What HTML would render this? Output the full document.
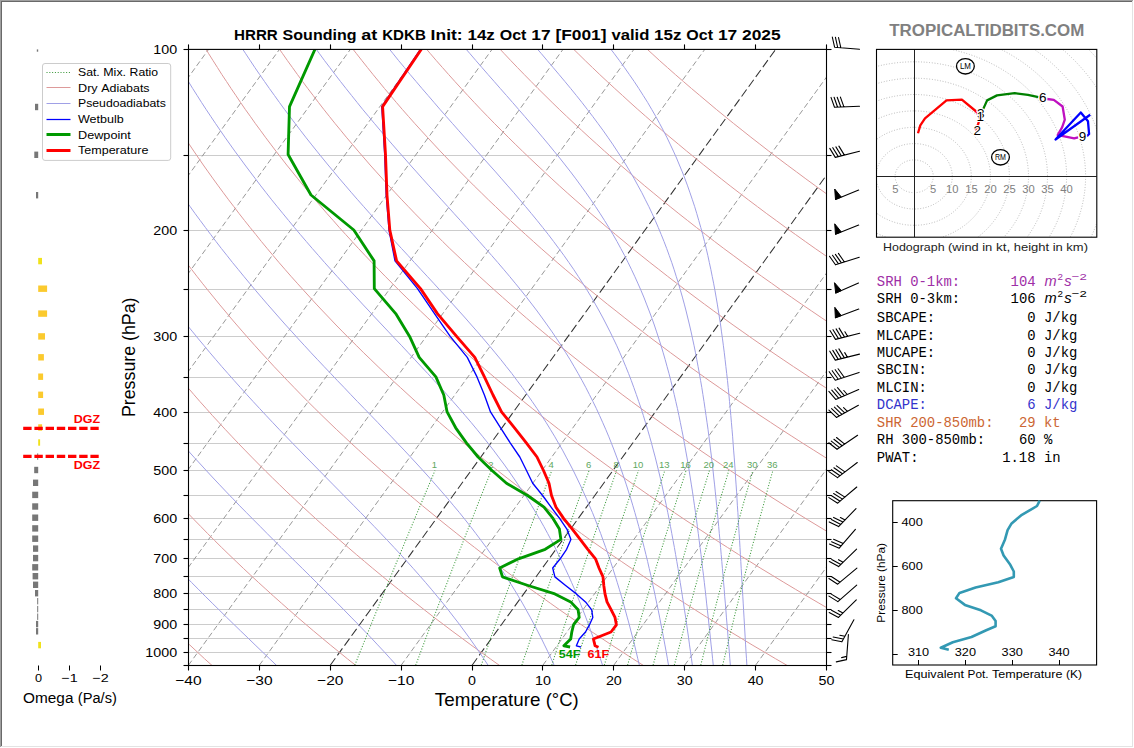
<!DOCTYPE html>
<html><head><meta charset="utf-8"><style>
html,body{margin:0;padding:0;background:#fff;}
svg{display:block;font-family:"Liberation Sans",sans-serif;}
</style></head><body>
<svg width="1134" height="748" viewBox="0 0 1134 748">
<defs><clipPath id="ax"><rect x="188.5" y="49.5" width="638.0" height="616.0"/></clipPath>
<clipPath id="hodo"><rect x="876.5" y="49.5" width="220.3" height="187.6"/></clipPath></defs>
<rect x="0" y="0" width="1134" height="748" fill="#fff"/>
<rect x="0" y="0" width="1133" height="1" fill="#a0a0a0"/><rect x="0" y="0" width="1" height="747" fill="#a0a0a0"/>
<rect x="1" y="1" width="1131" height="1" fill="#696969"/><rect x="1" y="1" width="1" height="745" fill="#696969"/>
<rect x="1132" y="1" width="1" height="746" fill="#e3e3e3"/><rect x="1" y="746" width="1132" height="1" fill="#e3e3e3"/>
<g clip-path="url(#ax)">
<line x1="188.5" y1="49.5" x2="826.5" y2="49.5" stroke="#cccccc" stroke-width="1"/>
<line x1="188.5" y1="155.5" x2="826.5" y2="155.5" stroke="#cccccc" stroke-width="1"/>
<line x1="188.5" y1="230.5" x2="826.5" y2="230.5" stroke="#cccccc" stroke-width="1"/>
<line x1="188.5" y1="289.5" x2="826.5" y2="289.5" stroke="#cccccc" stroke-width="1"/>
<line x1="188.5" y1="336.5" x2="826.5" y2="336.5" stroke="#cccccc" stroke-width="1"/>
<line x1="188.5" y1="377.5" x2="826.5" y2="377.5" stroke="#cccccc" stroke-width="1"/>
<line x1="188.5" y1="412.5" x2="826.5" y2="412.5" stroke="#cccccc" stroke-width="1"/>
<line x1="188.5" y1="443.5" x2="826.5" y2="443.5" stroke="#cccccc" stroke-width="1"/>
<line x1="188.5" y1="470.5" x2="826.5" y2="470.5" stroke="#cccccc" stroke-width="1"/>
<line x1="188.5" y1="495.5" x2="826.5" y2="495.5" stroke="#cccccc" stroke-width="1"/>
<line x1="188.5" y1="518.5" x2="826.5" y2="518.5" stroke="#cccccc" stroke-width="1"/>
<line x1="188.5" y1="539.5" x2="826.5" y2="539.5" stroke="#cccccc" stroke-width="1"/>
<line x1="188.5" y1="558.5" x2="826.5" y2="558.5" stroke="#cccccc" stroke-width="1"/>
<line x1="188.5" y1="576.5" x2="826.5" y2="576.5" stroke="#cccccc" stroke-width="1"/>
<line x1="188.5" y1="593.5" x2="826.5" y2="593.5" stroke="#cccccc" stroke-width="1"/>
<line x1="188.5" y1="609.5" x2="826.5" y2="609.5" stroke="#cccccc" stroke-width="1"/>
<line x1="188.5" y1="624.5" x2="826.5" y2="624.5" stroke="#cccccc" stroke-width="1"/>
<line x1="188.5" y1="638.5" x2="826.5" y2="638.5" stroke="#cccccc" stroke-width="1"/>
<line x1="188.5" y1="652.5" x2="826.5" y2="652.5" stroke="#cccccc" stroke-width="1"/>
<line x1="-449.5" y1="665.2" x2="-3.2" y2="48.1" stroke="#8c8c8c" stroke-width="0.9" stroke-dasharray="5.6 3.0"/>
<line x1="-378.6" y1="665.2" x2="67.7" y2="48.1" stroke="#8c8c8c" stroke-width="0.9" stroke-dasharray="5.6 3.0"/>
<line x1="-307.7" y1="665.2" x2="138.6" y2="48.1" stroke="#8c8c8c" stroke-width="0.9" stroke-dasharray="5.6 3.0"/>
<line x1="-236.8" y1="665.2" x2="209.5" y2="48.1" stroke="#8c8c8c" stroke-width="0.9" stroke-dasharray="5.6 3.0"/>
<line x1="-165.9" y1="665.2" x2="280.4" y2="48.1" stroke="#8c8c8c" stroke-width="0.9" stroke-dasharray="5.6 3.0"/>
<line x1="-95.1" y1="665.2" x2="351.3" y2="48.1" stroke="#8c8c8c" stroke-width="0.9" stroke-dasharray="5.6 3.0"/>
<line x1="-24.2" y1="665.2" x2="422.2" y2="48.1" stroke="#8c8c8c" stroke-width="0.9" stroke-dasharray="5.6 3.0"/>
<line x1="46.7" y1="665.2" x2="493.0" y2="48.1" stroke="#8c8c8c" stroke-width="0.9" stroke-dasharray="5.6 3.0"/>
<line x1="117.6" y1="665.2" x2="563.9" y2="48.1" stroke="#8c8c8c" stroke-width="0.9" stroke-dasharray="5.6 3.0"/>
<line x1="188.5" y1="665.2" x2="634.8" y2="48.1" stroke="#8c8c8c" stroke-width="0.9" stroke-dasharray="5.6 3.0"/>
<line x1="259.4" y1="665.2" x2="705.7" y2="48.1" stroke="#8c8c8c" stroke-width="0.9" stroke-dasharray="5.6 3.0"/>
<line x1="330.3" y1="665.2" x2="776.6" y2="48.1" stroke="#333333" stroke-width="1.05" stroke-dasharray="8.6 3.5"/>
<line x1="401.2" y1="665.2" x2="847.5" y2="48.1" stroke="#8c8c8c" stroke-width="0.9" stroke-dasharray="5.6 3.0"/>
<line x1="472.1" y1="665.2" x2="918.4" y2="48.1" stroke="#333333" stroke-width="1.05" stroke-dasharray="8.6 3.5"/>
<line x1="542.9" y1="665.2" x2="989.3" y2="48.1" stroke="#8c8c8c" stroke-width="0.9" stroke-dasharray="5.6 3.0"/>
<line x1="613.8" y1="665.2" x2="1060.2" y2="48.1" stroke="#8c8c8c" stroke-width="0.9" stroke-dasharray="5.6 3.0"/>
<line x1="684.7" y1="665.2" x2="1131.1" y2="48.1" stroke="#8c8c8c" stroke-width="0.9" stroke-dasharray="5.6 3.0"/>
<line x1="755.6" y1="665.2" x2="1201.9" y2="48.1" stroke="#8c8c8c" stroke-width="0.9" stroke-dasharray="5.6 3.0"/>
<line x1="826.5" y1="665.2" x2="1272.8" y2="48.1" stroke="#8c8c8c" stroke-width="0.9" stroke-dasharray="5.6 3.0"/>
<polyline points="-75.4,665.7 -80.9,658.8 -86.3,651.8 -91.5,644.9 -96.8,637.9 -101.9,631.0 -107.0,624.0 -111.9,617.1 -116.8,610.1 -121.7,603.1 -126.4,596.2 -131.1,589.2 -135.7,582.3 -140.3,575.3 -144.7,568.4 -149.1,561.4 -153.4,554.5 -157.7,547.5 -161.9,540.6 -166.0,533.6 -170.0,526.6 -174.0,519.7 -177.9,512.7 -181.8,505.8 -185.5,498.8 -189.2,491.9 -192.9,484.9 -196.5,478.0 -200.0,471.0 -203.4,464.0 -206.8,457.1 -210.1,450.1 -213.4,443.2 -216.6,436.2 -219.7,429.3 -222.8,422.3 -225.8,415.4 -228.7,408.4 -231.6,401.5 -234.4,394.5 -237.2,387.5 -239.9,380.6 -242.6,373.6 -245.2,366.7 -247.7,359.7 -250.2,352.8 -252.6,345.8 -255.0,338.9 -257.3,331.9 -259.5,325.0 -261.7,318.0 -263.9,311.0 -266.0,304.1 -268.0,297.1 -270.0,290.2 -271.9,283.2 -273.8,276.3 -275.6,269.3 -277.4,262.4 -279.1,255.4 -280.8,248.5 -282.4,241.5 -284.0,234.5 -285.5,227.6 -287.0,220.6 -288.4,213.7 -289.8,206.7 -291.1,199.8 -292.4,192.8 -293.6,185.9 -294.8,178.9 -296.0,171.9 -297.1,165.0 -298.1,158.0 -299.1,151.1 -300.1,144.1 -301.0,137.2 -301.8,130.2 -302.6,123.3 -303.4,116.3 -304.2,109.4 -304.8,102.4 -305.5,95.4 -306.1,88.5 -306.6,81.5 -307.2,74.6 -307.6,67.6 -308.1,60.7 -308.5,53.7 -308.8,46.8" fill="none" stroke="#dd9a9a" stroke-width="1"/>
<polyline points="68.4,665.7 61.9,658.8 55.4,651.8 49.1,644.9 42.8,637.9 36.6,631.0 30.5,624.0 24.5,617.1 18.5,610.1 12.7,603.1 6.9,596.2 1.2,589.2 -4.4,582.3 -9.9,575.3 -15.4,568.4 -20.7,561.4 -26.0,554.5 -31.2,547.5 -36.4,540.6 -41.4,533.6 -46.4,526.6 -51.3,519.7 -56.1,512.7 -60.9,505.8 -65.6,498.8 -70.2,491.9 -74.7,484.9 -79.2,478.0 -83.6,471.0 -87.9,464.0 -92.2,457.1 -96.4,450.1 -100.5,443.2 -104.5,436.2 -108.5,429.3 -112.4,422.3 -116.2,415.4 -120.0,408.4 -123.7,401.5 -127.4,394.5 -131.0,387.5 -134.5,380.6 -137.9,373.6 -141.3,366.7 -144.6,359.7 -147.9,352.8 -151.1,345.8 -154.2,338.9 -157.3,331.9 -160.3,325.0 -163.2,318.0 -166.1,311.0 -168.9,304.1 -171.7,297.1 -174.4,290.2 -177.1,283.2 -179.7,276.3 -182.2,269.3 -184.7,262.4 -187.1,255.4 -189.5,248.5 -191.8,241.5 -194.0,234.5 -196.3,227.6 -198.4,220.6 -200.5,213.7 -202.5,206.7 -204.5,199.8 -206.4,192.8 -208.3,185.9 -210.2,178.9 -211.9,171.9 -213.7,165.0 -215.3,158.0 -217.0,151.1 -218.5,144.1 -220.1,137.2 -221.5,130.2 -223.0,123.3 -224.3,116.3 -225.7,109.4 -226.9,102.4 -228.2,95.4 -229.4,88.5 -230.5,81.5 -231.6,74.6 -232.6,67.6 -233.6,60.7 -234.6,53.7 -235.5,46.8" fill="none" stroke="#dd9a9a" stroke-width="1"/>
<polyline points="212.3,665.7 204.6,658.8 197.1,651.8 189.7,644.9 182.4,637.9 175.1,631.0 168.0,624.0 160.9,617.1 153.9,610.1 147.1,603.1 140.3,596.2 133.6,589.2 127.0,582.3 120.5,575.3 114.0,568.4 107.7,561.4 101.4,554.5 95.2,547.5 89.2,540.6 83.2,533.6 77.2,526.6 71.4,519.7 65.6,512.7 60.0,505.8 54.4,498.8 48.8,491.9 43.4,484.9 38.0,478.0 32.8,471.0 27.6,464.0 22.4,457.1 17.4,450.1 12.4,443.2 7.5,436.2 2.7,429.3 -2.0,422.3 -6.7,415.4 -11.3,408.4 -15.8,401.5 -20.3,394.5 -24.7,387.5 -29.0,380.6 -33.2,373.6 -37.4,366.7 -41.5,359.7 -45.6,352.8 -49.5,345.8 -53.4,338.9 -57.2,331.9 -61.0,325.0 -64.7,318.0 -68.3,311.0 -71.9,304.1 -75.4,297.1 -78.8,290.2 -82.2,283.2 -85.5,276.3 -88.8,269.3 -92.0,262.4 -95.1,255.4 -98.1,248.5 -101.1,241.5 -104.1,234.5 -107.0,227.6 -109.8,220.6 -112.6,213.7 -115.3,206.7 -117.9,199.8 -120.5,192.8 -123.0,185.9 -125.5,178.9 -127.9,171.9 -130.3,165.0 -132.6,158.0 -134.8,151.1 -137.0,144.1 -139.1,137.2 -141.2,130.2 -143.3,123.3 -145.2,116.3 -147.2,109.4 -149.0,102.4 -150.8,95.4 -152.6,88.5 -154.3,81.5 -156.0,74.6 -157.6,67.6 -159.2,60.7 -160.7,53.7 -162.2,46.8" fill="none" stroke="#dd9a9a" stroke-width="1"/>
<polyline points="356.1,665.7 347.4,658.8 338.8,651.8 330.3,644.9 321.9,637.9 313.6,631.0 305.4,624.0 297.3,617.1 289.3,610.1 281.4,603.1 273.6,596.2 265.9,589.2 258.3,582.3 250.8,575.3 243.4,568.4 236.1,561.4 228.9,554.5 221.7,547.5 214.7,540.6 207.7,533.6 200.9,526.6 194.1,519.7 187.4,512.7 180.8,505.8 174.3,498.8 167.9,491.9 161.5,484.9 155.3,478.0 149.1,471.0 143.1,464.0 137.1,457.1 131.1,450.1 125.3,443.2 119.6,436.2 113.9,429.3 108.3,422.3 102.8,415.4 97.4,408.4 92.0,401.5 86.8,394.5 81.6,387.5 76.5,380.6 71.4,373.6 66.5,366.7 61.6,359.7 56.8,352.8 52.0,345.8 47.4,338.9 42.8,331.9 38.3,325.0 33.8,318.0 29.4,311.0 25.1,304.1 20.9,297.1 16.7,290.2 12.6,283.2 8.6,276.3 4.7,269.3 0.8,262.4 -3.1,255.4 -6.8,248.5 -10.5,241.5 -14.1,234.5 -17.7,227.6 -21.2,220.6 -24.6,213.7 -28.0,206.7 -31.3,199.8 -34.5,192.8 -37.7,185.9 -40.8,178.9 -43.9,171.9 -46.9,165.0 -49.8,158.0 -52.7,151.1 -55.5,144.1 -58.2,137.2 -60.9,130.2 -63.6,123.3 -66.1,116.3 -68.7,109.4 -71.1,102.4 -73.5,95.4 -75.9,88.5 -78.2,81.5 -80.4,74.6 -82.6,67.6 -84.7,60.7 -86.8,53.7 -88.8,46.8" fill="none" stroke="#dd9a9a" stroke-width="1"/>
<polyline points="499.9,665.7 490.2,658.8 480.5,651.8 470.9,644.9 461.5,637.9 452.1,631.0 442.9,624.0 433.7,617.1 424.7,610.1 415.8,603.1 407.0,596.2 398.3,589.2 389.7,582.3 381.2,575.3 372.8,568.4 364.5,561.4 356.3,554.5 348.2,547.5 340.2,540.6 332.3,533.6 324.5,526.6 316.8,519.7 309.2,512.7 301.7,505.8 294.3,498.8 286.9,491.9 279.7,484.9 272.6,478.0 265.5,471.0 258.5,464.0 251.7,457.1 244.9,450.1 238.2,443.2 231.6,436.2 225.1,429.3 218.7,422.3 212.3,415.4 206.1,408.4 199.9,401.5 193.8,394.5 187.8,387.5 181.9,380.6 176.1,373.6 170.3,366.7 164.7,359.7 159.1,352.8 153.6,345.8 148.1,338.9 142.8,331.9 137.5,325.0 132.3,318.0 127.2,311.0 122.2,304.1 117.2,297.1 112.3,290.2 107.5,283.2 102.7,276.3 98.1,269.3 93.5,262.4 89.0,255.4 84.5,248.5 80.1,241.5 75.8,234.5 71.6,227.6 67.4,220.6 63.3,213.7 59.3,206.7 55.3,199.8 51.4,192.8 47.6,185.9 43.9,178.9 40.2,171.9 36.5,165.0 33.0,158.0 29.5,151.1 26.1,144.1 22.7,137.2 19.4,130.2 16.1,123.3 13.0,116.3 9.8,109.4 6.8,102.4 3.8,95.4 0.9,88.5 -2.0,81.5 -4.8,74.6 -7.6,67.6 -10.3,60.7 -12.9,53.7 -15.5,46.8" fill="none" stroke="#dd9a9a" stroke-width="1"/>
<polyline points="643.8,665.7 632.9,658.8 622.2,651.8 611.5,644.9 601.0,637.9 590.6,631.0 580.3,624.0 570.2,617.1 560.1,610.1 550.2,603.1 540.4,596.2 530.6,589.2 521.0,582.3 511.6,575.3 502.2,568.4 492.9,561.4 483.7,554.5 474.7,547.5 465.7,540.6 456.9,533.6 448.1,526.6 439.5,519.7 431.0,512.7 422.5,505.8 414.2,498.8 406.0,491.9 397.8,484.9 389.8,478.0 381.9,471.0 374.0,464.0 366.3,457.1 358.7,450.1 351.1,443.2 343.7,436.2 336.3,429.3 329.0,422.3 321.9,415.4 314.8,408.4 307.8,401.5 300.9,394.5 294.1,387.5 287.4,380.6 280.8,373.6 274.2,366.7 267.8,359.7 261.4,352.8 255.1,345.8 248.9,338.9 242.8,331.9 236.8,325.0 230.8,318.0 225.0,311.0 219.2,304.1 213.5,297.1 207.9,290.2 202.3,283.2 196.9,276.3 191.5,269.3 186.2,262.4 181.0,255.4 175.8,248.5 170.8,241.5 165.8,234.5 160.9,227.6 156.0,220.6 151.3,213.7 146.6,206.7 142.0,199.8 137.4,192.8 132.9,185.9 128.5,178.9 124.2,171.9 119.9,165.0 115.8,158.0 111.6,151.1 107.6,144.1 103.6,137.2 99.7,130.2 95.8,123.3 92.1,116.3 88.3,109.4 84.7,102.4 81.1,95.4 77.6,88.5 74.1,81.5 70.8,74.6 67.4,67.6 64.2,60.7 61.0,53.7 57.8,46.8" fill="none" stroke="#dd9a9a" stroke-width="1"/>
<polyline points="787.6,665.7 775.7,658.8 763.9,651.8 752.1,644.9 740.6,637.9 729.1,631.0 717.8,624.0 706.6,617.1 695.5,610.1 684.6,603.1 673.7,596.2 663.0,589.2 652.4,582.3 641.9,575.3 631.6,568.4 621.3,561.4 611.2,554.5 601.1,547.5 591.2,540.6 581.5,533.6 571.8,526.6 562.2,519.7 552.7,512.7 543.4,505.8 534.1,498.8 525.0,491.9 516.0,484.9 507.1,478.0 498.2,471.0 489.5,464.0 480.9,457.1 472.4,450.1 464.0,443.2 455.7,436.2 447.5,429.3 439.4,422.3 431.4,415.4 423.5,408.4 415.7,401.5 408.0,394.5 400.4,387.5 392.8,380.6 385.4,373.6 378.1,366.7 370.9,359.7 363.7,352.8 356.7,345.8 349.7,338.9 342.8,331.9 336.0,325.0 329.4,318.0 322.7,311.0 316.2,304.1 309.8,297.1 303.5,290.2 297.2,283.2 291.0,276.3 284.9,269.3 278.9,262.4 273.0,255.4 267.2,248.5 261.4,241.5 255.8,234.5 250.2,227.6 244.6,220.6 239.2,213.7 233.9,206.7 228.6,199.8 223.4,192.8 218.3,185.9 213.2,178.9 208.2,171.9 203.3,165.0 198.5,158.0 193.8,151.1 189.1,144.1 184.5,137.2 180.0,130.2 175.5,123.3 171.2,116.3 166.8,109.4 162.6,102.4 158.4,95.4 154.3,88.5 150.3,81.5 146.3,74.6 142.4,67.6 138.6,60.7 134.8,53.7 131.2,46.8" fill="none" stroke="#dd9a9a" stroke-width="1"/>
<polyline points="931.5,665.7 918.4,658.8 905.5,651.8 892.8,644.9 880.1,637.9 867.6,631.0 855.3,624.0 843.0,617.1 830.9,610.1 818.9,603.1 807.1,596.2 795.3,589.2 783.8,582.3 772.3,575.3 760.9,568.4 749.7,561.4 738.6,554.5 727.6,547.5 716.8,540.6 706.0,533.6 695.4,526.6 684.9,519.7 674.5,512.7 664.2,505.8 654.1,498.8 644.1,491.9 634.1,484.9 624.3,478.0 614.6,471.0 605.0,464.0 595.5,457.1 586.2,450.1 576.9,443.2 567.8,436.2 558.7,429.3 549.8,422.3 540.9,415.4 532.2,408.4 523.6,401.5 515.1,394.5 506.6,387.5 498.3,380.6 490.1,373.6 482.0,366.7 473.9,359.7 466.0,352.8 458.2,345.8 450.5,338.9 442.8,331.9 435.3,325.0 427.9,318.0 420.5,311.0 413.3,304.1 406.1,297.1 399.0,290.2 392.1,283.2 385.2,276.3 378.4,269.3 371.7,262.4 365.0,255.4 358.5,248.5 352.1,241.5 345.7,234.5 339.4,227.6 333.3,220.6 327.1,213.7 321.1,206.7 315.2,199.8 309.3,192.8 303.6,185.9 297.9,178.9 292.3,171.9 286.7,165.0 281.3,158.0 275.9,151.1 270.6,144.1 265.4,137.2 260.3,130.2 255.2,123.3 250.3,116.3 245.3,109.4 240.5,102.4 235.8,95.4 231.1,88.5 226.5,81.5 221.9,74.6 217.5,67.6 213.1,60.7 208.7,53.7 204.5,46.8" fill="none" stroke="#dd9a9a" stroke-width="1"/>
<polyline points="1075.3,665.7 1061.2,658.8 1047.2,651.8 1033.4,644.9 1019.7,637.9 1006.1,631.0 992.7,624.0 979.4,617.1 966.3,610.1 953.3,603.1 940.4,596.2 927.7,589.2 915.1,582.3 902.6,575.3 890.3,568.4 878.1,561.4 866.0,554.5 854.1,547.5 842.3,540.6 830.6,533.6 819.0,526.6 807.6,519.7 796.3,512.7 785.1,505.8 774.0,498.8 763.1,491.9 752.3,484.9 741.6,478.0 731.0,471.0 720.5,464.0 710.2,457.1 699.9,450.1 689.8,443.2 679.8,436.2 669.9,429.3 660.1,422.3 650.5,415.4 640.9,408.4 631.5,401.5 622.1,394.5 612.9,387.5 603.8,380.6 594.8,373.6 585.8,366.7 577.0,359.7 568.3,352.8 559.7,345.8 551.3,338.9 542.9,331.9 534.6,325.0 526.4,318.0 518.3,311.0 510.3,304.1 502.4,297.1 494.6,290.2 486.9,283.2 479.3,276.3 471.8,269.3 464.4,262.4 457.1,255.4 449.8,248.5 442.7,241.5 435.7,234.5 428.7,227.6 421.9,220.6 415.1,213.7 408.4,206.7 401.8,199.8 395.3,192.8 388.9,185.9 382.6,178.9 376.3,171.9 370.1,165.0 364.1,158.0 358.1,151.1 352.2,144.1 346.3,137.2 340.6,130.2 334.9,123.3 329.3,116.3 323.8,109.4 318.4,102.4 313.1,95.4 307.8,88.5 302.6,81.5 297.5,74.6 292.5,67.6 287.5,60.7 282.6,53.7 277.8,46.8" fill="none" stroke="#dd9a9a" stroke-width="1"/>
<polyline points="1219.2,665.7 1204.0,658.8 1188.9,651.8 1174.0,644.9 1159.2,637.9 1144.6,631.0 1130.2,624.0 1115.9,617.1 1101.7,610.1 1087.7,603.1 1073.8,596.2 1060.1,589.2 1046.5,582.3 1033.0,575.3 1019.7,568.4 1006.5,561.4 993.5,554.5 980.6,547.5 967.8,540.6 955.2,533.6 942.7,526.6 930.3,519.7 918.1,512.7 906.0,505.8 894.0,498.8 882.1,491.9 870.4,484.9 858.8,478.0 847.4,471.0 836.0,464.0 824.8,457.1 813.7,450.1 802.7,443.2 791.8,436.2 781.1,429.3 770.5,422.3 760.0,415.4 749.6,408.4 739.3,401.5 729.2,394.5 719.2,387.5 709.2,380.6 699.4,373.6 689.7,366.7 680.1,359.7 670.7,352.8 661.3,345.8 652.0,338.9 642.9,331.9 633.8,325.0 624.9,318.0 616.1,311.0 607.3,304.1 598.7,297.1 590.2,290.2 581.8,283.2 573.5,276.3 565.2,269.3 557.1,262.4 549.1,255.4 541.2,248.5 533.4,241.5 525.6,234.5 518.0,227.6 510.5,220.6 503.0,213.7 495.7,206.7 488.4,199.8 481.3,192.8 474.2,185.9 467.2,178.9 460.3,171.9 453.6,165.0 446.8,158.0 440.2,151.1 433.7,144.1 427.3,137.2 420.9,130.2 414.6,123.3 408.4,116.3 402.3,109.4 396.3,102.4 390.4,95.4 384.5,88.5 378.8,81.5 373.1,74.6 367.5,67.6 362.0,60.7 356.5,53.7 351.1,46.8" fill="none" stroke="#dd9a9a" stroke-width="1"/>
<polyline points="1363.0,665.7 1346.7,658.8 1330.6,651.8 1314.6,644.9 1298.8,637.9 1283.1,631.0 1267.6,624.0 1252.3,617.1 1237.1,610.1 1222.0,603.1 1207.1,596.2 1192.4,589.2 1177.8,582.3 1163.4,575.3 1149.1,568.4 1134.9,561.4 1120.9,554.5 1107.0,547.5 1093.3,540.6 1079.7,533.6 1066.3,526.6 1053.0,519.7 1039.8,512.7 1026.8,505.8 1013.9,498.8 1001.2,491.9 988.6,484.9 976.1,478.0 963.7,471.0 951.5,464.0 939.4,457.1 927.4,450.1 915.6,443.2 903.9,436.2 892.3,429.3 880.9,422.3 869.5,415.4 858.3,408.4 847.2,401.5 836.3,394.5 825.4,387.5 814.7,380.6 804.1,373.6 793.6,366.7 783.2,359.7 773.0,352.8 762.8,345.8 752.8,338.9 742.9,331.9 733.1,325.0 723.4,318.0 713.8,311.0 704.4,304.1 695.0,297.1 685.8,290.2 676.6,283.2 667.6,276.3 658.7,269.3 649.8,262.4 641.1,255.4 632.5,248.5 624.0,241.5 615.6,234.5 607.3,227.6 599.1,220.6 591.0,213.7 583.0,206.7 575.1,199.8 567.2,192.8 559.5,185.9 551.9,178.9 544.4,171.9 537.0,165.0 529.6,158.0 522.4,151.1 515.2,144.1 508.2,137.2 501.2,130.2 494.3,123.3 487.5,116.3 480.8,109.4 474.2,102.4 467.7,95.4 461.3,88.5 454.9,81.5 448.7,74.6 442.5,67.6 436.4,60.7 430.4,53.7 424.5,46.8" fill="none" stroke="#dd9a9a" stroke-width="1"/>
<polyline points="1506.9,665.7 1489.5,658.8 1472.3,651.8 1455.2,644.9 1438.4,637.9 1421.6,631.0 1405.1,624.0 1388.7,617.1 1372.5,610.1 1356.4,603.1 1340.5,596.2 1324.8,589.2 1309.2,582.3 1293.7,575.3 1278.5,568.4 1263.3,561.4 1248.3,554.5 1233.5,547.5 1218.8,540.6 1204.3,533.6 1189.9,526.6 1175.7,519.7 1161.6,512.7 1147.7,505.8 1133.9,498.8 1120.2,491.9 1106.7,484.9 1093.3,478.0 1080.1,471.0 1067.0,464.0 1054.0,457.1 1041.2,450.1 1028.5,443.2 1015.9,436.2 1003.5,429.3 991.2,422.3 979.1,415.4 967.0,408.4 955.1,401.5 943.3,394.5 931.7,387.5 920.2,380.6 908.8,373.6 897.5,366.7 886.3,359.7 875.3,352.8 864.4,345.8 853.6,338.9 842.9,331.9 832.4,325.0 821.9,318.0 811.6,311.0 801.4,304.1 791.3,297.1 781.3,290.2 771.5,283.2 761.7,276.3 752.1,269.3 742.6,262.4 733.2,255.4 723.8,248.5 714.6,241.5 705.6,234.5 696.6,227.6 687.7,220.6 678.9,213.7 670.2,206.7 661.7,199.8 653.2,192.8 644.8,185.9 636.6,178.9 628.4,171.9 620.4,165.0 612.4,158.0 604.5,151.1 596.8,144.1 589.1,137.2 581.5,130.2 574.0,123.3 566.6,116.3 559.3,109.4 552.1,102.4 545.0,95.4 538.0,88.5 531.1,81.5 524.3,74.6 517.5,67.6 510.9,60.7 504.3,53.7 497.8,46.8" fill="none" stroke="#dd9a9a" stroke-width="1"/>
<polyline points="1650.7,665.7 1632.2,658.8 1614.0,651.8 1595.8,644.9 1577.9,637.9 1560.1,631.0 1542.5,624.0 1525.1,617.1 1507.9,610.1 1490.8,603.1 1473.9,596.2 1457.1,589.2 1440.5,582.3 1424.1,575.3 1407.8,568.4 1391.7,561.4 1375.8,554.5 1360.0,547.5 1344.4,540.6 1328.9,533.6 1313.6,526.6 1298.4,519.7 1283.4,512.7 1268.5,505.8 1253.8,498.8 1239.3,491.9 1224.8,484.9 1210.6,478.0 1196.5,471.0 1182.5,464.0 1168.6,457.1 1155.0,450.1 1141.4,443.2 1128.0,436.2 1114.7,429.3 1101.6,422.3 1088.6,415.4 1075.7,408.4 1063.0,401.5 1050.4,394.5 1037.9,387.5 1025.6,380.6 1013.4,373.6 1001.4,366.7 989.4,359.7 977.6,352.8 965.9,345.8 954.4,338.9 942.9,331.9 931.6,325.0 920.4,318.0 909.4,311.0 898.4,304.1 887.6,297.1 876.9,290.2 866.3,283.2 855.9,276.3 845.5,269.3 835.3,262.4 825.2,255.4 815.2,248.5 805.3,241.5 795.5,234.5 785.8,227.6 776.3,220.6 766.8,213.7 757.5,206.7 748.3,199.8 739.2,192.8 730.2,185.9 721.3,178.9 712.5,171.9 703.8,165.0 695.2,158.0 686.7,151.1 678.3,144.1 670.0,137.2 661.8,130.2 653.7,123.3 645.7,116.3 637.8,109.4 630.0,102.4 622.4,95.4 614.8,88.5 607.2,81.5 599.8,74.6 592.5,67.6 585.3,60.7 578.2,53.7 571.1,46.8" fill="none" stroke="#dd9a9a" stroke-width="1"/>
<polyline points="1794.6,665.7 1775.0,658.8 1755.6,651.8 1736.5,644.9 1717.5,637.9 1698.6,631.0 1680.0,624.0 1661.5,617.1 1643.3,610.1 1625.2,603.1 1607.2,596.2 1589.5,589.2 1571.9,582.3 1554.5,575.3 1537.2,568.4 1520.1,561.4 1503.2,554.5 1486.5,547.5 1469.9,540.6 1453.5,533.6 1437.2,526.6 1421.1,519.7 1405.2,512.7 1389.4,505.8 1373.8,498.8 1358.3,491.9 1343.0,484.9 1327.8,478.0 1312.8,471.0 1298.0,464.0 1283.3,457.1 1268.7,450.1 1254.3,443.2 1240.0,436.2 1225.9,429.3 1211.9,422.3 1198.1,415.4 1184.4,408.4 1170.9,401.5 1157.5,394.5 1144.2,387.5 1131.1,380.6 1118.1,373.6 1105.2,366.7 1092.5,359.7 1079.9,352.8 1067.5,345.8 1055.1,338.9 1043.0,331.9 1030.9,325.0 1019.0,318.0 1007.2,311.0 995.5,304.1 983.9,297.1 972.5,290.2 961.2,283.2 950.0,276.3 939.0,269.3 928.0,262.4 917.2,255.4 906.5,248.5 895.9,241.5 885.5,234.5 875.1,227.6 864.9,220.6 854.8,213.7 844.8,206.7 834.9,199.8 825.1,192.8 815.5,185.9 805.9,178.9 796.5,171.9 787.2,165.0 777.9,158.0 768.8,151.1 759.8,144.1 750.9,137.2 742.1,130.2 733.4,123.3 724.8,116.3 716.3,109.4 708.0,102.4 699.7,95.4 691.5,88.5 683.4,81.5 675.4,74.6 667.5,67.6 659.7,60.7 652.1,53.7 644.5,46.8" fill="none" stroke="#dd9a9a" stroke-width="1"/>
<polyline points="276.8,665.7 269.6,658.8 262.3,651.8 255.1,644.9 247.9,637.9 240.7,631.0 233.5,624.0 226.4,617.1 219.3,610.1 212.2,603.1 205.2,596.2 198.3,589.2 191.4,582.3 184.6,575.3 177.8,568.4 171.1,561.4 164.5,554.5 157.9,547.5 151.5,540.6 145.1,533.6 138.7,526.6 132.5,519.7 126.3,512.7 120.2,505.8 114.2,498.8 108.2,491.9 102.4,484.9 96.6,478.0 90.9,471.0 85.2,464.0 79.7,457.1 74.2,450.1 68.8,443.2 63.5,436.2 58.3,429.3 53.1,422.3 48.0,415.4 43.0,408.4 38.1,401.5 33.2,394.5 28.4,387.5 23.7,380.6 19.1,373.6 14.5,366.7 10.0,359.7 5.6,352.8 1.2,345.8 -3.0,338.9 -7.2,331.9 -11.4,325.0 -15.5,318.0 -19.5,311.0 -23.4,304.1 -27.3,297.1 -31.1,290.2 -34.8,283.2 -38.5,276.3 -42.1,269.3 -45.6,262.4 -49.1,255.4 -52.5,248.5 -55.8,241.5 -59.1,234.5 -62.3,227.6 -65.5,220.6 -68.6,213.7 -71.6,206.7 -74.6,199.8 -77.5,192.8 -80.4,185.9 -83.2,178.9 -85.9,171.9 -88.6,165.0 -91.2,158.0 -93.7,151.1 -96.2,144.1 -98.7,137.2 -101.1,130.2 -103.4,123.3 -105.7,116.3 -107.9,109.4 -110.1,102.4 -112.2,95.4 -114.3,88.5 -116.3,81.5 -118.2,74.6 -120.1,67.6 -122.0,60.7 -123.8,53.7 -125.5,46.8" fill="none" stroke="#a0a0e6" stroke-width="1"/>
<polyline points="396.8,665.7 390.5,658.8 384.2,651.8 377.7,644.9 371.2,637.9 364.5,631.0 357.8,624.0 351.0,617.1 344.2,610.1 337.3,603.1 330.3,596.2 323.3,589.2 316.3,582.3 309.3,575.3 302.3,568.4 295.2,561.4 288.2,554.5 281.2,547.5 274.2,540.6 267.2,533.6 260.3,526.6 253.4,519.7 246.5,512.7 239.7,505.8 233.0,498.8 226.3,491.9 219.7,484.9 213.2,478.0 206.7,471.0 200.3,464.0 193.9,457.1 187.6,450.1 181.4,443.2 175.3,436.2 169.3,429.3 163.3,422.3 157.4,415.4 151.6,408.4 145.9,401.5 140.2,394.5 134.6,387.5 129.1,380.6 123.7,373.6 118.4,366.7 113.1,359.7 107.9,352.8 102.8,345.8 97.7,338.9 92.8,331.9 87.9,325.0 83.0,318.0 78.3,311.0 73.6,304.1 69.0,297.1 64.5,290.2 60.1,283.2 55.7,276.3 51.4,269.3 47.1,262.4 42.9,255.4 38.8,248.5 34.8,241.5 30.8,234.5 26.9,227.6 23.1,220.6 19.4,213.7 15.7,206.7 12.0,199.8 8.5,192.8 5.0,185.9 1.5,178.9 -1.9,171.9 -5.2,165.0 -8.4,158.0 -11.6,151.1 -14.7,144.1 -17.8,137.2 -20.8,130.2 -23.7,123.3 -26.6,116.3 -29.4,109.4 -32.2,102.4 -34.9,95.4 -37.5,88.5 -40.1,81.5 -42.6,74.6 -45.1,67.6 -47.5,60.7 -49.9,53.7 -52.2,46.8" fill="none" stroke="#a0a0e6" stroke-width="1"/>
<polyline points="488.4,665.7 483.8,658.8 479.1,651.8 474.3,644.9 469.4,637.9 464.3,631.0 459.2,624.0 453.8,617.1 448.4,610.1 442.8,603.1 437.1,596.2 431.3,589.2 425.4,582.3 419.3,575.3 413.2,568.4 406.9,561.4 400.6,554.5 394.1,547.5 387.6,540.6 381.0,533.6 374.3,526.6 367.6,519.7 360.8,512.7 354.0,505.8 347.1,498.8 340.3,491.9 333.4,484.9 326.6,478.0 319.7,471.0 312.9,464.0 306.0,457.1 299.3,450.1 292.5,443.2 285.8,436.2 279.1,429.3 272.5,422.3 266.0,415.4 259.5,408.4 253.1,401.5 246.7,394.5 240.4,387.5 234.2,380.6 228.0,373.6 221.9,366.7 215.9,359.7 210.0,352.8 204.2,345.8 198.4,338.9 192.7,331.9 187.0,325.0 181.5,318.0 176.0,311.0 170.6,304.1 165.3,297.1 160.0,290.2 154.9,283.2 149.8,276.3 144.8,269.3 139.8,262.4 135.0,255.4 130.2,248.5 125.4,241.5 120.8,234.5 116.2,227.6 111.7,220.6 107.3,213.7 102.9,206.7 98.6,199.8 94.4,192.8 90.3,185.9 86.2,178.9 82.2,171.9 78.2,165.0 74.4,158.0 70.6,151.1 66.8,144.1 63.1,137.2 59.5,130.2 56.0,123.3 52.5,116.3 49.1,109.4 45.7,102.4 42.4,95.4 39.2,88.5 36.1,81.5 32.9,74.6 29.9,67.6 26.9,60.7 24.0,53.7 21.1,46.8" fill="none" stroke="#a0a0e6" stroke-width="1"/>
<polyline points="554.3,665.7 551.2,658.8 547.9,651.8 544.5,644.9 541.1,637.9 537.6,631.0 533.9,624.0 530.2,617.1 526.3,610.1 522.4,603.1 518.3,596.2 514.1,589.2 509.8,582.3 505.3,575.3 500.7,568.4 496.1,561.4 491.2,554.5 486.3,547.5 481.2,540.6 475.9,533.6 470.6,526.6 465.1,519.7 459.5,512.7 453.7,505.8 447.9,498.8 441.9,491.9 435.8,484.9 429.7,478.0 423.4,471.0 417.0,464.0 410.6,457.1 404.1,450.1 397.5,443.2 390.9,436.2 384.2,429.3 377.6,422.3 370.9,415.4 364.1,408.4 357.4,401.5 350.7,394.5 344.1,387.5 337.4,380.6 330.8,373.6 324.2,366.7 317.6,359.7 311.1,352.8 304.7,345.8 298.3,338.9 292.0,331.9 285.7,325.0 279.5,318.0 273.4,311.0 267.3,304.1 261.3,297.1 255.4,290.2 249.5,283.2 243.8,276.3 238.1,269.3 232.4,262.4 226.9,255.4 221.4,248.5 216.0,241.5 210.7,234.5 205.5,227.6 200.3,220.6 195.2,213.7 190.2,206.7 185.2,199.8 180.4,192.8 175.6,185.9 170.9,178.9 166.2,171.9 161.6,165.0 157.1,158.0 152.7,151.1 148.3,144.1 144.0,137.2 139.8,130.2 135.7,123.3 131.6,116.3 127.6,109.4 123.6,102.4 119.8,95.4 116.0,88.5 112.2,81.5 108.5,74.6 104.9,67.6 101.4,60.7 97.9,53.7 94.5,46.8" fill="none" stroke="#a0a0e6" stroke-width="1"/>
<polyline points="602.7,665.7 600.4,658.8 598.1,651.8 595.7,644.9 593.3,637.9 590.8,631.0 588.3,624.0 585.7,617.1 583.0,610.1 580.2,603.1 577.4,596.2 574.5,589.2 571.5,582.3 568.4,575.3 565.2,568.4 561.9,561.4 558.5,554.5 555.0,547.5 551.4,540.6 547.7,533.6 543.9,526.6 540.0,519.7 535.9,512.7 531.7,505.8 527.4,498.8 522.9,491.9 518.3,484.9 513.6,478.0 508.8,471.0 503.8,464.0 498.6,457.1 493.4,450.1 488.0,443.2 482.4,436.2 476.8,429.3 471.0,422.3 465.1,415.4 459.1,408.4 453.0,401.5 446.8,394.5 440.6,387.5 434.2,380.6 427.8,373.6 421.3,366.7 414.8,359.7 408.3,352.8 401.8,345.8 395.2,338.9 388.6,331.9 382.1,325.0 375.5,318.0 369.0,311.0 362.5,304.1 356.1,297.1 349.6,290.2 343.3,283.2 337.0,276.3 330.7,269.3 324.5,262.4 318.4,255.4 312.3,248.5 306.3,241.5 300.3,234.5 294.5,227.6 288.7,220.6 283.0,213.7 277.3,206.7 271.7,199.8 266.2,192.8 260.8,185.9 255.5,178.9 250.2,171.9 245.0,165.0 239.9,158.0 234.8,151.1 229.8,144.1 224.9,137.2 220.1,130.2 215.4,123.3 210.7,116.3 206.1,109.4 201.5,102.4 197.1,95.4 192.7,88.5 188.4,81.5 184.1,74.6 179.9,67.6 175.8,60.7 171.8,53.7 167.8,46.8" fill="none" stroke="#a0a0e6" stroke-width="1"/>
<polyline points="639.5,665.7 637.8,658.8 636.2,651.8 634.5,644.9 632.7,637.9 630.9,631.0 629.1,624.0 627.2,617.1 625.3,610.1 623.4,603.1 621.4,596.2 619.3,589.2 617.2,582.3 615.0,575.3 612.8,568.4 610.5,561.4 608.2,554.5 605.7,547.5 603.2,540.6 600.7,533.6 598.0,526.6 595.3,519.7 592.5,512.7 589.5,505.8 586.5,498.8 583.4,491.9 580.2,484.9 576.9,478.0 573.5,471.0 569.9,464.0 566.2,457.1 562.5,450.1 558.5,443.2 554.5,436.2 550.3,429.3 546.0,422.3 541.5,415.4 536.9,408.4 532.2,401.5 527.3,394.5 522.3,387.5 517.1,380.6 511.9,373.6 506.4,366.7 500.9,359.7 495.2,352.8 489.4,345.8 483.5,338.9 477.5,331.9 471.4,325.0 465.3,318.0 459.0,311.0 452.8,304.1 446.4,297.1 440.0,290.2 433.6,283.2 427.2,276.3 420.7,269.3 414.3,262.4 407.9,255.4 401.5,248.5 395.1,241.5 388.7,234.5 382.4,227.6 376.2,220.6 370.0,213.7 363.8,206.7 357.7,199.8 351.6,192.8 345.7,185.9 339.7,178.9 333.9,171.9 328.1,165.0 322.4,158.0 316.8,151.1 311.2,144.1 305.7,137.2 300.3,130.2 295.0,123.3 289.7,116.3 284.5,109.4 279.4,102.4 274.4,95.4 269.4,88.5 264.5,81.5 259.7,74.6 254.9,67.6 250.3,60.7 245.7,53.7 241.1,46.8" fill="none" stroke="#a0a0e6" stroke-width="1"/>
<polyline points="668.6,665.7 667.4,658.8 666.2,651.8 664.9,644.9 663.6,637.9 662.3,631.0 660.9,624.0 659.6,617.1 658.2,610.1 656.7,603.1 655.3,596.2 653.8,589.2 652.3,582.3 650.8,575.3 649.2,568.4 647.6,561.4 645.9,554.5 644.2,547.5 642.4,540.6 640.6,533.6 638.8,526.6 636.9,519.7 634.9,512.7 632.9,505.8 630.8,498.8 628.6,491.9 626.4,484.9 624.1,478.0 621.7,471.0 619.3,464.0 616.7,457.1 614.1,450.1 611.4,443.2 608.6,436.2 605.7,429.3 602.6,422.3 599.5,415.4 596.3,408.4 592.9,401.5 589.4,394.5 585.8,387.5 582.1,380.6 578.2,373.6 574.2,366.7 570.1,359.7 565.8,352.8 561.4,345.8 556.8,338.9 552.1,331.9 547.2,325.0 542.2,318.0 537.1,311.0 531.8,304.1 526.4,297.1 520.9,290.2 515.2,283.2 509.5,276.3 503.6,269.3 497.7,262.4 491.6,255.4 485.5,248.5 479.3,241.5 473.1,234.5 466.8,227.6 460.5,220.6 454.2,213.7 447.9,206.7 441.6,199.8 435.3,192.8 429.0,185.9 422.7,178.9 416.5,171.9 410.3,165.0 404.2,158.0 398.1,151.1 392.0,144.1 386.0,137.2 380.1,130.2 374.3,123.3 368.5,116.3 362.7,109.4 357.1,102.4 351.5,95.4 346.0,88.5 340.5,81.5 335.2,74.6 329.9,67.6 324.6,60.7 319.5,53.7 314.4,46.8" fill="none" stroke="#a0a0e6" stroke-width="1"/>
<polyline points="692.4,665.7 691.5,658.8 690.5,651.8 689.5,644.9 688.6,637.9 687.6,631.0 686.6,624.0 685.6,617.1 684.5,610.1 683.5,603.1 682.4,596.2 681.3,589.2 680.2,582.3 679.1,575.3 678.0,568.4 676.8,561.4 675.6,554.5 674.4,547.5 673.1,540.6 671.8,533.6 670.5,526.6 669.2,519.7 667.8,512.7 666.4,505.8 664.9,498.8 663.4,491.9 661.9,484.9 660.3,478.0 658.6,471.0 656.9,464.0 655.2,457.1 653.3,450.1 651.5,443.2 649.5,436.2 647.5,429.3 645.4,422.3 643.3,415.4 641.1,408.4 638.7,401.5 636.3,394.5 633.8,387.5 631.3,380.6 628.6,373.6 625.8,366.7 622.9,359.7 619.9,352.8 616.8,345.8 613.5,338.9 610.1,331.9 606.6,325.0 603.0,318.0 599.2,311.0 595.3,304.1 591.3,297.1 587.1,290.2 582.7,283.2 578.2,276.3 573.6,269.3 568.8,262.4 563.9,255.4 558.8,248.5 553.6,241.5 548.3,234.5 542.8,227.6 537.2,220.6 531.5,213.7 525.7,206.7 519.8,199.8 513.9,192.8 507.8,185.9 501.7,178.9 495.6,171.9 489.4,165.0 483.2,158.0 477.0,151.1 470.8,144.1 464.6,137.2 458.4,130.2 452.3,123.3 446.1,116.3 440.0,109.4 434.0,102.4 428.0,95.4 422.0,88.5 416.1,81.5 410.2,74.6 404.5,67.6 398.7,60.7 393.1,53.7 387.5,46.8" fill="none" stroke="#a0a0e6" stroke-width="1"/>
<polyline points="713.3,665.7 712.6,658.8 711.9,651.8 711.1,644.9 710.4,637.9 709.7,631.0 708.9,624.0 708.2,617.1 707.4,610.1 706.6,603.1 705.9,596.2 705.1,589.2 704.3,582.3 703.5,575.3 702.6,568.4 701.8,561.4 701.0,554.5 700.1,547.5 699.2,540.6 698.3,533.6 697.4,526.6 696.5,519.7 695.5,512.7 694.5,505.8 693.5,498.8 692.5,491.9 691.4,484.9 690.3,478.0 689.2,471.0 688.1,464.0 686.9,457.1 685.6,450.1 684.4,443.2 683.1,436.2 681.7,429.3 680.3,422.3 678.9,415.4 677.4,408.4 675.8,401.5 674.2,394.5 672.5,387.5 670.8,380.6 669.0,373.6 667.1,366.7 665.2,359.7 663.2,352.8 661.1,345.8 658.9,338.9 656.6,331.9 654.3,325.0 651.8,318.0 649.2,311.0 646.5,304.1 643.8,297.1 640.9,290.2 637.8,283.2 634.7,276.3 631.4,269.3 628.0,262.4 624.5,255.4 620.8,248.5 617.0,241.5 613.0,234.5 608.9,227.6 604.6,220.6 600.2,213.7 595.6,206.7 590.9,199.8 586.0,192.8 581.0,185.9 575.9,178.9 570.6,171.9 565.2,165.0 559.7,158.0 554.0,151.1 548.3,144.1 542.5,137.2 536.6,130.2 530.6,123.3 524.6,116.3 518.6,109.4 512.5,102.4 506.4,95.4 500.3,88.5 494.2,81.5 488.1,74.6 482.0,67.6 476.0,60.7 470.0,53.7 464.0,46.8" fill="none" stroke="#a0a0e6" stroke-width="1"/>
<polyline points="730.4,665.7 729.8,658.8 729.3,651.8 728.7,644.9 728.1,637.9 727.6,631.0 727.0,624.0 726.4,617.1 725.9,610.1 725.3,603.1 724.7,596.2 724.2,589.2 723.6,582.3 723.0,575.3 722.4,568.4 721.8,561.4 721.2,554.5 720.6,547.5 720.0,540.6 719.3,533.6 718.7,526.6 718.1,519.7 717.4,512.7 716.7,505.8 716.0,498.8 715.3,491.9 714.6,484.9 713.8,478.0 713.1,471.0 712.3,464.0 711.5,457.1 710.6,450.1 709.8,443.2 708.9,436.2 708.0,429.3 707.0,422.3 706.0,415.4 705.0,408.4 704.0,401.5 702.9,394.5 701.8,387.5 700.6,380.6 699.4,373.6 698.1,366.7 696.8,359.7 695.5,352.8 694.1,345.8 692.6,338.9 691.1,331.9 689.5,325.0 687.8,318.0 686.1,311.0 684.3,304.1 682.4,297.1 680.4,290.2 678.4,283.2 676.2,276.3 674.0,269.3 671.7,262.4 669.2,255.4 666.7,248.5 664.0,241.5 661.2,234.5 658.3,227.6 655.3,220.6 652.2,213.7 648.9,206.7 645.4,199.8 641.9,192.8 638.1,185.9 634.3,178.9 630.2,171.9 626.1,165.0 621.7,158.0 617.2,151.1 612.6,144.1 607.8,137.2 602.9,130.2 597.8,123.3 592.6,116.3 587.3,109.4 581.9,102.4 576.3,95.4 570.7,88.5 564.9,81.5 559.1,74.6 553.2,67.6 547.3,60.7 541.4,53.7 535.4,46.8" fill="none" stroke="#a0a0e6" stroke-width="1"/>
<polyline points="746.9,665.7 746.5,658.8 746.0,651.8 745.6,644.9 745.2,637.9 744.8,631.0 744.4,624.0 744.0,617.1 743.6,610.1 743.2,603.1 742.8,596.2 742.4,589.2 742.0,582.3 741.6,575.3 741.2,568.4 740.8,561.4 740.4,554.5 740.0,547.5 739.6,540.6 739.1,533.6 738.7,526.6 738.3,519.7 737.9,512.7 737.4,505.8 737.0,498.8 736.6,491.9 736.1,484.9 735.6,478.0 735.2,471.0 734.7,464.0 734.2,457.1 733.6,450.1 733.1,443.2 732.6,436.2 732.0,429.3 731.4,422.3 730.8,415.4 730.2,408.4 729.5,401.5 728.9,394.5 728.2,387.5 727.5,380.6 726.7,373.6 725.9,366.7 725.1,359.7 724.3,352.8 723.4,345.8 722.5,338.9 721.5,331.9 720.6,325.0 719.5,318.0 718.4,311.0 717.3,304.1 716.1,297.1 714.9,290.2 713.6,283.2 712.2,276.3 710.8,269.3 709.3,262.4 707.8,255.4 706.2,248.5 704.5,241.5 702.7,234.5 700.8,227.6 698.8,220.6 696.8,213.7 694.7,206.7 692.4,199.8 690.0,192.8 687.6,185.9 685.0,178.9 682.3,171.9 679.4,165.0 676.5,158.0 673.4,151.1 670.1,144.1 666.8,137.2 663.2,130.2 659.5,123.3 655.7,116.3 651.7,109.4 647.6,102.4 643.2,95.4 638.8,88.5 634.2,81.5 629.4,74.6 624.5,67.6 619.5,60.7 614.3,53.7 609.0,46.8" fill="none" stroke="#a0a0e6" stroke-width="1"/>
<polyline points="354.8,665.2 356.7,660.5 358.6,655.6 360.6,650.6 362.7,645.6 364.7,640.4 366.9,635.1 369.0,629.8 371.2,624.3 373.5,618.7 375.8,612.9 378.2,607.1 380.7,601.1 383.2,595.0 385.7,588.7 388.4,582.3 391.1,575.7 393.8,569.0 396.7,562.0 399.7,554.9 402.7,547.6 405.8,540.1 409.0,532.3 412.4,524.3 415.8,516.1 419.4,507.6 423.1,498.8 426.9,489.7 430.9,480.3 435.0,470.5" fill="none" stroke="#3d9a3d" stroke-width="1.05" stroke-dasharray="1.05 1.75"/>
<polyline points="415.7,665.2 417.5,660.5 419.3,655.6 421.2,650.6 423.1,645.6 425.0,640.4 427.0,635.1 429.1,629.8 431.1,624.3 433.3,618.7 435.5,612.9 437.7,607.1 440.0,601.1 442.4,595.0 444.8,588.7 447.3,582.3 449.8,575.7 452.4,569.0 455.1,562.0 457.9,554.9 460.8,547.6 463.7,540.1 466.8,532.3 469.9,524.3 473.2,516.1 476.5,507.6 480.0,498.8 483.6,489.7 487.4,480.3 491.3,470.5" fill="none" stroke="#3d9a3d" stroke-width="1.05" stroke-dasharray="1.05 1.75"/>
<polyline points="481.2,665.2 482.9,660.5 484.6,655.6 486.3,650.6 488.1,645.6 489.9,640.4 491.7,635.1 493.6,629.8 495.6,624.3 497.5,618.7 499.6,612.9 501.7,607.1 503.8,601.1 506.0,595.0 508.2,588.7 510.5,582.3 512.9,575.7 515.4,569.0 517.9,562.0 520.5,554.9 523.1,547.6 525.9,540.1 528.7,532.3 531.7,524.3 534.7,516.1 537.9,507.6 541.2,498.8 544.6,489.7 548.1,480.3 551.8,470.5" fill="none" stroke="#3d9a3d" stroke-width="1.05" stroke-dasharray="1.05 1.75"/>
<polyline points="521.9,665.2 523.4,660.5 525.0,655.6 526.7,650.6 528.4,645.6 530.1,640.4 531.8,635.1 533.6,629.8 535.5,624.3 537.4,618.7 539.3,612.9 541.3,607.1 543.3,601.1 545.4,595.0 547.6,588.7 549.8,582.3 552.0,575.7 554.3,569.0 556.7,562.0 559.2,554.9 561.8,547.6 564.4,540.1 567.1,532.3 569.9,524.3 572.8,516.1 575.9,507.6 579.0,498.8 582.2,489.7 585.6,480.3 589.1,470.5" fill="none" stroke="#3d9a3d" stroke-width="1.05" stroke-dasharray="1.05 1.75"/>
<polyline points="551.8,665.2 553.3,660.5 554.8,655.6 556.4,650.6 558.0,645.6 559.7,640.4 561.4,635.1 563.1,629.8 564.9,624.3 566.7,618.7 568.5,612.9 570.4,607.1 572.4,601.1 574.4,595.0 576.5,588.7 578.6,582.3 580.8,575.7 583.0,569.0 585.3,562.0 587.7,554.9 590.2,547.6 592.7,540.1 595.3,532.3 598.0,524.3 600.9,516.1 603.8,507.6 606.8,498.8 609.9,489.7 613.2,480.3 616.6,470.5" fill="none" stroke="#3d9a3d" stroke-width="1.05" stroke-dasharray="1.05 1.75"/>
<polyline points="575.6,665.2 577.1,660.5 578.6,655.6 580.1,650.6 581.6,645.6 583.2,640.4 584.9,635.1 586.5,629.8 588.3,624.3 590.0,618.7 591.8,612.9 593.7,607.1 595.5,601.1 597.5,595.0 599.5,588.7 601.5,582.3 603.7,575.7 605.8,569.0 608.1,562.0 610.4,554.9 612.8,547.6 615.2,540.1 617.8,532.3 620.4,524.3 623.2,516.1 626.0,507.6 628.9,498.8 632.0,489.7 635.2,480.3 638.5,470.5" fill="none" stroke="#3d9a3d" stroke-width="1.05" stroke-dasharray="1.05 1.75"/>
<polyline points="604.3,665.2 605.7,660.5 607.2,655.6 608.6,650.6 610.1,645.6 611.6,640.4 613.2,635.1 614.8,629.8 616.4,624.3 618.1,618.7 619.9,612.9 621.6,607.1 623.4,601.1 625.3,595.0 627.2,588.7 629.2,582.3 631.2,575.7 633.3,569.0 635.5,562.0 637.7,554.9 640.0,547.6 642.4,540.1 644.8,532.3 647.4,524.3 650.0,516.1 652.7,507.6 655.6,498.8 658.5,489.7 661.6,480.3 664.8,470.5" fill="none" stroke="#3d9a3d" stroke-width="1.05" stroke-dasharray="1.05 1.75"/>
<polyline points="627.6,665.2 628.9,660.5 630.3,655.6 631.7,650.6 633.2,645.6 634.6,640.4 636.1,635.1 637.7,629.8 639.3,624.3 640.9,618.7 642.6,612.9 644.3,607.1 646.0,601.1 647.8,595.0 649.7,588.7 651.6,582.3 653.6,575.7 655.6,569.0 657.7,562.0 659.8,554.9 662.0,547.6 664.3,540.1 666.7,532.3 669.2,524.3 671.7,516.1 674.4,507.6 677.1,498.8 680.0,489.7 683.0,480.3 686.1,470.5" fill="none" stroke="#3d9a3d" stroke-width="1.05" stroke-dasharray="1.05 1.75"/>
<polyline points="653.1,665.2 654.4,660.5 655.7,655.6 657.1,650.6 658.4,645.6 659.9,640.4 661.3,635.1 662.8,629.8 664.3,624.3 665.9,618.7 667.5,612.9 669.1,607.1 670.8,601.1 672.5,595.0 674.3,588.7 676.1,582.3 678.0,575.7 680.0,569.0 682.0,562.0 684.1,554.9 686.2,547.6 688.4,540.1 690.7,532.3 693.1,524.3 695.5,516.1 698.1,507.6 700.7,498.8 703.5,489.7 706.4,480.3 709.4,470.5" fill="none" stroke="#3d9a3d" stroke-width="1.05" stroke-dasharray="1.05 1.75"/>
<polyline points="674.3,665.2 675.6,660.5 676.9,655.6 678.2,650.6 679.5,645.6 680.8,640.4 682.2,635.1 683.7,629.8 685.1,624.3 686.6,618.7 688.2,612.9 689.8,607.1 691.4,601.1 693.1,595.0 694.8,588.7 696.6,582.3 698.4,575.7 700.3,569.0 702.2,562.0 704.2,554.9 706.3,547.6 708.4,540.1 710.6,532.3 712.9,524.3 715.3,516.1 717.8,507.6 720.4,498.8 723.1,489.7 725.9,480.3 728.8,470.5" fill="none" stroke="#3d9a3d" stroke-width="1.05" stroke-dasharray="1.05 1.75"/>
<polyline points="700.8,665.2 702.0,660.5 703.2,655.6 704.4,650.6 705.7,645.6 707.0,640.4 708.3,635.1 709.6,629.8 711.0,624.3 712.5,618.7 714.0,612.9 715.5,607.1 717.0,601.1 718.6,595.0 720.3,588.7 722.0,582.3 723.7,575.7 725.5,569.0 727.4,562.0 729.3,554.9 731.3,547.6 733.3,540.1 735.5,532.3 737.7,524.3 740.0,516.1 742.3,507.6 744.8,498.8 747.4,489.7 750.1,480.3 752.9,470.5" fill="none" stroke="#3d9a3d" stroke-width="1.05" stroke-dasharray="1.05 1.75"/>
<polyline points="722.7,665.2 723.8,660.5 725.0,655.6 726.2,650.6 727.4,645.6 728.6,640.4 729.9,635.1 731.2,629.8 732.6,624.3 733.9,618.7 735.3,612.9 736.8,607.1 738.3,601.1 739.8,595.0 741.4,588.7 743.0,582.3 744.7,575.7 746.4,569.0 748.2,562.0 750.1,554.9 752.0,547.6 754.0,540.1 756.0,532.3 758.2,524.3 760.4,516.1 762.7,507.6 765.1,498.8 767.5,489.7 770.1,480.3 772.9,470.5" fill="none" stroke="#3d9a3d" stroke-width="1.05" stroke-dasharray="1.05 1.75"/>
</g>
<text x="434.50" y="468.00" font-size="8.79" fill="#5fa85f" textLength="5.30" lengthAdjust="spacingAndGlyphs" text-anchor="middle">1</text>
<text x="490.83" y="468.00" font-size="8.79" fill="#5fa85f" textLength="5.30" lengthAdjust="spacingAndGlyphs" text-anchor="middle">2</text>
<text x="551.26" y="468.00" font-size="8.79" fill="#5fa85f" textLength="5.30" lengthAdjust="spacingAndGlyphs" text-anchor="middle">4</text>
<text x="588.65" y="468.00" font-size="8.79" fill="#5fa85f" textLength="5.30" lengthAdjust="spacingAndGlyphs" text-anchor="middle">6</text>
<text x="616.11" y="468.00" font-size="8.79" fill="#5fa85f" textLength="5.30" lengthAdjust="spacingAndGlyphs" text-anchor="middle">8</text>
<text x="637.97" y="468.00" font-size="8.79" fill="#5fa85f" textLength="10.60" lengthAdjust="spacingAndGlyphs" text-anchor="middle">10</text>
<text x="664.28" y="468.00" font-size="8.79" fill="#5fa85f" textLength="10.60" lengthAdjust="spacingAndGlyphs" text-anchor="middle">13</text>
<text x="685.56" y="468.00" font-size="8.79" fill="#5fa85f" textLength="10.60" lengthAdjust="spacingAndGlyphs" text-anchor="middle">16</text>
<text x="708.88" y="468.00" font-size="8.79" fill="#5fa85f" textLength="10.60" lengthAdjust="spacingAndGlyphs" text-anchor="middle">20</text>
<text x="728.27" y="468.00" font-size="8.79" fill="#5fa85f" textLength="10.60" lengthAdjust="spacingAndGlyphs" text-anchor="middle">24</text>
<text x="752.37" y="468.00" font-size="8.79" fill="#5fa85f" textLength="10.60" lengthAdjust="spacingAndGlyphs" text-anchor="middle">30</text>
<text x="772.36" y="468.00" font-size="8.79" fill="#5fa85f" textLength="10.60" lengthAdjust="spacingAndGlyphs" text-anchor="middle">36</text>
<g clip-path="url(#ax)" fill="none" stroke-linejoin="round">
<polyline points="421.3,48.1 381.8,106.6 384.7,154.5 386.2,195.0 389.0,230.0 395.0,260.9 417.5,288.6 434.5,313.6 450.2,336.4 467.3,357.4 477.0,376.9 484.4,395.0 490.5,411.9 500.6,427.8 510.2,442.8 519.8,457.0 526.5,470.5 532.7,483.3 542.6,495.5 551.1,507.2 559.6,518.4 566.9,529.1 570.9,539.4 566.6,549.3 560.2,558.8 552.7,568.0 554.9,576.9 565.6,585.5 576.4,593.9 585.5,601.9 591.7,609.8 592.8,617.4 589.5,624.8 585.5,632.0 579.2,639.0 576.4,645.8 580.9,647.0" stroke="#0000ff" stroke-width="1.35"/>
<polyline points="315.5,48.1 289.5,106.6 288.1,154.5 311.0,195.0 353.8,230.0 374.1,260.9 374.3,288.6 395.7,313.6 409.6,336.4 419.2,357.4 435.9,376.9 443.8,395.0 447.1,411.9 455.7,427.8 466.4,442.8 478.1,457.0 492.0,470.5 506.5,483.3 527.5,495.5 544.0,507.2 553.0,518.4 559.4,529.1 560.9,539.4 545.2,549.3 518.5,558.8 499.7,568.0 502.5,576.9 528.1,585.5 554.9,593.9 570.7,601.9 578.1,609.8 579.2,617.4 573.5,624.8 571.8,632.0 570.7,639.0 563.9,645.8 570.1,647.0" stroke="#009900" stroke-width="2.85"/>
<polyline points="422.1,48.1 382.6,106.6 385.5,154.5 387.0,195.0 389.8,230.0 396.6,260.9 420.5,288.6 437.4,313.6 456.6,336.4 474.8,357.4 484.4,376.9 493.0,395.0 501.5,411.9 514.5,427.8 526.3,442.8 537.0,457.0 543.5,470.5 549.0,483.3 551.5,495.5 556.0,507.2 563.6,518.4 572.3,529.1 580.2,539.4 587.8,549.3 595.5,558.8 599.0,568.0 603.0,576.9 603.8,585.5 605.0,593.9 607.0,601.9 611.2,609.8 615.0,617.4 616.4,624.8 611.0,632.0 593.4,639.0 595.1,645.8 598.5,647.3" stroke="#ff0000" stroke-width="2.85"/>
</g>
<text x="569.50" y="657.60" font-size="10.99" fill="#009900" textLength="21.61" lengthAdjust="spacingAndGlyphs" font-weight="bold" text-anchor="middle">54F</text>
<text x="598.40" y="657.60" font-size="10.99" fill="#ff0000" textLength="21.61" lengthAdjust="spacingAndGlyphs" font-weight="bold" text-anchor="middle">61F</text>
<g stroke="#000" stroke-width="1.1" fill="none">
<rect x="188.5" y="49.4" width="638.0" height="616.1"/>
<line x1="183.5" y1="49.5" x2="188.5" y2="49.5"/><line x1="826.5" y1="49.5" x2="831.5" y2="49.5"/>
<line x1="183.5" y1="155.5" x2="188.5" y2="155.5"/><line x1="826.5" y1="155.5" x2="831.5" y2="155.5"/>
<line x1="183.5" y1="230.5" x2="188.5" y2="230.5"/><line x1="826.5" y1="230.5" x2="831.5" y2="230.5"/>
<line x1="183.5" y1="289.5" x2="188.5" y2="289.5"/><line x1="826.5" y1="289.5" x2="831.5" y2="289.5"/>
<line x1="183.5" y1="336.5" x2="188.5" y2="336.5"/><line x1="826.5" y1="336.5" x2="831.5" y2="336.5"/>
<line x1="183.5" y1="377.5" x2="188.5" y2="377.5"/><line x1="826.5" y1="377.5" x2="831.5" y2="377.5"/>
<line x1="183.5" y1="412.5" x2="188.5" y2="412.5"/><line x1="826.5" y1="412.5" x2="831.5" y2="412.5"/>
<line x1="183.5" y1="443.5" x2="188.5" y2="443.5"/><line x1="826.5" y1="443.5" x2="831.5" y2="443.5"/>
<line x1="183.5" y1="470.5" x2="188.5" y2="470.5"/><line x1="826.5" y1="470.5" x2="831.5" y2="470.5"/>
<line x1="183.5" y1="495.5" x2="188.5" y2="495.5"/><line x1="826.5" y1="495.5" x2="831.5" y2="495.5"/>
<line x1="183.5" y1="518.5" x2="188.5" y2="518.5"/><line x1="826.5" y1="518.5" x2="831.5" y2="518.5"/>
<line x1="183.5" y1="539.5" x2="188.5" y2="539.5"/><line x1="826.5" y1="539.5" x2="831.5" y2="539.5"/>
<line x1="183.5" y1="558.5" x2="188.5" y2="558.5"/><line x1="826.5" y1="558.5" x2="831.5" y2="558.5"/>
<line x1="183.5" y1="576.5" x2="188.5" y2="576.5"/><line x1="826.5" y1="576.5" x2="831.5" y2="576.5"/>
<line x1="183.5" y1="593.5" x2="188.5" y2="593.5"/><line x1="826.5" y1="593.5" x2="831.5" y2="593.5"/>
<line x1="183.5" y1="609.5" x2="188.5" y2="609.5"/><line x1="826.5" y1="609.5" x2="831.5" y2="609.5"/>
<line x1="183.5" y1="624.5" x2="188.5" y2="624.5"/><line x1="826.5" y1="624.5" x2="831.5" y2="624.5"/>
<line x1="183.5" y1="638.5" x2="188.5" y2="638.5"/><line x1="826.5" y1="638.5" x2="831.5" y2="638.5"/>
<line x1="183.5" y1="652.5" x2="188.5" y2="652.5"/><line x1="826.5" y1="652.5" x2="831.5" y2="652.5"/>
<line x1="183.5" y1="665.5" x2="188.5" y2="665.5"/><line x1="826.5" y1="665.5" x2="831.5" y2="665.5"/>
<line x1="188.5" y1="665.5" x2="188.5" y2="670.5"/><line x1="188.5" y1="44.4" x2="188.5" y2="49.4"/>
<line x1="259.5" y1="665.5" x2="259.5" y2="670.5"/><line x1="259.5" y1="44.4" x2="259.5" y2="49.4"/>
<line x1="330.5" y1="665.5" x2="330.5" y2="670.5"/><line x1="330.5" y1="44.4" x2="330.5" y2="49.4"/>
<line x1="401.5" y1="665.5" x2="401.5" y2="670.5"/><line x1="401.5" y1="44.4" x2="401.5" y2="49.4"/>
<line x1="472.5" y1="665.5" x2="472.5" y2="670.5"/><line x1="472.5" y1="44.4" x2="472.5" y2="49.4"/>
<line x1="542.5" y1="665.5" x2="542.5" y2="670.5"/><line x1="542.5" y1="44.4" x2="542.5" y2="49.4"/>
<line x1="613.5" y1="665.5" x2="613.5" y2="670.5"/><line x1="613.5" y1="44.4" x2="613.5" y2="49.4"/>
<line x1="684.5" y1="665.5" x2="684.5" y2="670.5"/><line x1="684.5" y1="44.4" x2="684.5" y2="49.4"/>
<line x1="755.5" y1="665.5" x2="755.5" y2="670.5"/><line x1="755.5" y1="44.4" x2="755.5" y2="49.4"/>
<line x1="826.5" y1="665.5" x2="826.5" y2="670.5"/><line x1="826.5" y1="44.4" x2="826.5" y2="49.4"/>
</g>
<g font-size="12.6" fill="#000">
<text x="177.20" y="53.80" font-size="13.19" fill="#000" textLength="23.86" lengthAdjust="spacingAndGlyphs" text-anchor="end">100</text>
<text x="177.20" y="235.29" font-size="13.19" fill="#000" textLength="23.86" lengthAdjust="spacingAndGlyphs" text-anchor="end">200</text>
<text x="177.20" y="341.46" font-size="13.19" fill="#000" textLength="23.86" lengthAdjust="spacingAndGlyphs" text-anchor="end">300</text>
<text x="177.20" y="416.78" font-size="13.19" fill="#000" textLength="23.86" lengthAdjust="spacingAndGlyphs" text-anchor="end">400</text>
<text x="177.20" y="475.21" font-size="13.19" fill="#000" textLength="23.86" lengthAdjust="spacingAndGlyphs" text-anchor="end">500</text>
<text x="177.20" y="522.95" font-size="13.19" fill="#000" textLength="23.86" lengthAdjust="spacingAndGlyphs" text-anchor="end">600</text>
<text x="177.20" y="563.31" font-size="13.19" fill="#000" textLength="23.86" lengthAdjust="spacingAndGlyphs" text-anchor="end">700</text>
<text x="177.20" y="598.27" font-size="13.19" fill="#000" textLength="23.86" lengthAdjust="spacingAndGlyphs" text-anchor="end">800</text>
<text x="177.20" y="629.11" font-size="13.19" fill="#000" textLength="23.86" lengthAdjust="spacingAndGlyphs" text-anchor="end">900</text>
<text x="177.20" y="656.70" font-size="13.19" fill="#000" textLength="31.81" lengthAdjust="spacingAndGlyphs" text-anchor="end">1000</text>
<text x="188.50" y="684.80" font-size="13.19" fill="#000" textLength="26.38" lengthAdjust="spacingAndGlyphs" text-anchor="middle">−40</text>
<text x="259.39" y="684.80" font-size="13.19" fill="#000" textLength="26.38" lengthAdjust="spacingAndGlyphs" text-anchor="middle">−30</text>
<text x="330.28" y="684.80" font-size="13.19" fill="#000" textLength="26.38" lengthAdjust="spacingAndGlyphs" text-anchor="middle">−20</text>
<text x="401.17" y="684.80" font-size="13.19" fill="#000" textLength="26.38" lengthAdjust="spacingAndGlyphs" text-anchor="middle">−10</text>
<text x="472.06" y="684.80" font-size="13.19" fill="#000" textLength="7.95" lengthAdjust="spacingAndGlyphs" text-anchor="middle">0</text>
<text x="542.94" y="684.80" font-size="13.19" fill="#000" textLength="15.91" lengthAdjust="spacingAndGlyphs" text-anchor="middle">10</text>
<text x="613.83" y="684.80" font-size="13.19" fill="#000" textLength="15.91" lengthAdjust="spacingAndGlyphs" text-anchor="middle">20</text>
<text x="684.72" y="684.80" font-size="13.19" fill="#000" textLength="15.91" lengthAdjust="spacingAndGlyphs" text-anchor="middle">30</text>
<text x="755.61" y="684.80" font-size="13.19" fill="#000" textLength="15.91" lengthAdjust="spacingAndGlyphs" text-anchor="middle">40</text>
<text x="826.50" y="684.80" font-size="13.19" fill="#000" textLength="15.91" lengthAdjust="spacingAndGlyphs" text-anchor="middle">50</text>
</g>
<text x="434.88" y="706.00" font-size="17.58" fill="#000" textLength="105.57" lengthAdjust="spacingAndGlyphs">Temperature</text><text x="545.74" y="706.00" font-size="17.58" fill="#000" textLength="32.98" lengthAdjust="spacingAndGlyphs">(°C)</text>
<text transform="translate(134.50,357.30) rotate(-90)" font-size="17.58" fill="#000" textLength="119.53" lengthAdjust="spacingAndGlyphs" text-anchor="middle">Pressure (hPa)</text>
<text x="234.09" y="39.70" font-size="14.65" fill="#000" textLength="43.71" lengthAdjust="spacingAndGlyphs" font-weight="bold">HRRR</text><text x="282.63" y="39.70" font-size="14.65" fill="#000" textLength="73.85" lengthAdjust="spacingAndGlyphs" font-weight="bold">Sounding</text><text x="361.31" y="39.70" font-size="14.65" fill="#000" textLength="16.01" lengthAdjust="spacingAndGlyphs" font-weight="bold">at</text><text x="382.16" y="39.70" font-size="14.65" fill="#000" textLength="43.64" lengthAdjust="spacingAndGlyphs" font-weight="bold">KDKB</text><text x="430.63" y="39.70" font-size="14.65" fill="#000" textLength="32.01" lengthAdjust="spacingAndGlyphs" font-weight="bold">Init:</text><text x="467.48" y="39.70" font-size="14.65" fill="#000" textLength="27.41" lengthAdjust="spacingAndGlyphs" font-weight="bold">14z</text><text x="499.72" y="39.70" font-size="14.65" fill="#000" textLength="26.68" lengthAdjust="spacingAndGlyphs" font-weight="bold">Oct</text><text x="531.24" y="39.70" font-size="14.65" fill="#000" textLength="19.33" lengthAdjust="spacingAndGlyphs" font-weight="bold">17</text><text x="555.40" y="39.70" font-size="14.65" fill="#000" textLength="51.17" lengthAdjust="spacingAndGlyphs" font-weight="bold">[F001]</text><text x="611.41" y="39.70" font-size="14.65" fill="#000" textLength="37.89" lengthAdjust="spacingAndGlyphs" font-weight="bold">valid</text><text x="654.14" y="39.70" font-size="14.65" fill="#000" textLength="27.41" lengthAdjust="spacingAndGlyphs" font-weight="bold">15z</text><text x="686.38" y="39.70" font-size="14.65" fill="#000" textLength="26.68" lengthAdjust="spacingAndGlyphs" font-weight="bold">Oct</text><text x="717.90" y="39.70" font-size="14.65" fill="#000" textLength="19.33" lengthAdjust="spacingAndGlyphs" font-weight="bold">17</text><text x="742.06" y="39.70" font-size="14.65" fill="#000" textLength="38.65" lengthAdjust="spacingAndGlyphs" font-weight="bold">2025</text>
<path d="M859.5 49.2L834.6 47.2 M834.6 47.2L832.3 37.0 M837.7 47.5L835.4 37.2 M840.8 47.7L838.5 37.5 M859.5 106.3L834.5 107.3 M834.5 107.3L831.0 97.4 M837.6 107.2L834.1 97.3 M840.8 107.0L837.2 97.2 M843.9 106.9L840.4 97.1 M859.5 151.2L835.3 157.4 M835.3 157.4L829.8 148.4 M838.3 156.6L832.8 147.7 M841.3 155.8L835.9 146.9 M844.4 155.1L838.9 146.1 M858.7 190.1L835.5 199.4 M858.7 225.1L835.5 234.2 M859.3 257.3L835.5 264.8 M835.5 264.8L829.5 256.3 M838.5 263.9L832.5 255.3 M841.4 262.9L835.4 254.4 M844.4 262.0L838.4 253.4 M858.5 283.0L835.7 293.1 M858.8 309.1L835.4 317.8 M859.7 333.2L835.5 339.4 M835.5 339.4L830.0 330.5 M838.5 338.6L833.0 329.7 M841.5 337.8L836.1 328.9 M844.6 337.1L839.1 328.1 M847.6 336.3L844.9 331.8 M859.5 354.1L835.3 360.1 M835.3 360.1L829.8 351.2 M838.3 359.4L832.8 350.4 M841.3 358.6L835.9 349.7 M844.4 357.9L838.9 348.9 M847.4 357.1L844.7 352.6 M859.1 372.4L835.3 380.2 M835.3 380.2L829.2 371.7 M838.3 379.2L832.2 370.7 M841.3 378.3L835.2 369.7 M844.2 377.3L838.1 368.8 M858.7 389.6L835.7 399.4 M835.7 399.4L828.9 391.4 M838.6 398.2L831.8 390.2 M841.4 396.9L834.7 389.0 M844.3 395.7L837.5 387.7 M847.2 394.5L843.8 390.5 M858.4 405.3L836.4 417.4 M836.4 417.4L828.9 410.1 M839.2 415.9L831.6 408.6 M841.9 414.4L834.4 407.1 M844.7 412.9L837.1 405.6 M847.4 411.4L843.6 407.7 M857.6 435.3L837.0 449.3 M837.0 449.3L828.8 442.8 M839.5 447.6L831.3 441.1 M842.1 445.8L833.9 439.3 M844.7 444.1L836.5 437.5 M857.3 462.5L837.5 477.6 M837.5 477.6L828.9 471.6 M840.0 475.7L831.4 469.7 M842.4 473.8L833.9 467.8 M844.9 471.9L836.4 465.9 M856.8 487.0L837.7 503.2 M837.7 503.2L828.9 497.6 M840.1 501.2L831.2 495.5 M842.5 499.1L833.6 493.5 M844.9 497.1L836.0 491.5 M856.0 508.7L838.6 526.6 M838.6 526.6L829.2 521.9 M840.8 524.4L831.4 519.6 M842.9 522.1L833.6 517.4 M845.1 519.9L840.4 517.5 M855.4 529.3L839.2 548.2 M839.2 548.2L829.5 544.1 M841.2 545.9L831.6 541.7 M843.2 543.5L833.6 539.3 M856.6 549.1L838.6 566.6 M838.6 566.6L829.4 561.6 M840.9 564.4L831.7 559.4 M843.1 562.2L838.5 559.7 M856.9 568.1L837.7 584.2 M837.7 584.2L828.9 578.5 M840.1 582.2L831.3 576.5 M856.7 585.1L837.9 601.6 M837.9 601.6L829.0 596.1 M840.2 599.5L831.3 594.1 M856.3 599.9L838.5 617.4 M838.5 617.4L829.2 612.5 M840.7 615.2L831.5 610.3 M842.9 613.0L838.3 610.6 M853.9 619.8L841.9 641.8 M841.9 641.8L831.7 639.8 M843.4 639.0L833.1 637.0 M844.9 636.3L839.8 635.3 M848.4 634.6L846.5 659.6 M846.5 659.6L836.3 661.9 M846.7 656.4L841.6 657.6" stroke="#000" stroke-width="1.1" fill="none" stroke-linecap="round"/>
<polygon points="835.5,199.4 834.7,189.0 841.3,197.1" fill="#000" stroke="#000" stroke-width="1" stroke-linejoin="round"/>
<polygon points="835.5,234.2 834.7,223.8 841.3,231.9" fill="#000" stroke="#000" stroke-width="1" stroke-linejoin="round"/>
<polygon points="835.7,293.1 834.5,282.7 841.4,290.6" fill="#000" stroke="#000" stroke-width="1" stroke-linejoin="round"/>
<polygon points="835.4,317.8 834.8,307.3 841.2,315.6" fill="#000" stroke="#000" stroke-width="1" stroke-linejoin="round"/>
<rect x="36.8" y="49.4" width="1.4" height="2.3" fill="#777777"/>
<rect x="35.0" y="103.8" width="3.2" height="6.4" fill="#777777"/>
<rect x="34.3" y="151.6" width="3.9" height="6.4" fill="#777777"/>
<rect x="36.0" y="192.0" width="2.2" height="6.4" fill="#777777"/>
<rect x="38.2" y="257.9" width="3.8" height="6.4" fill="#f0e21a"/>
<rect x="38.2" y="285.5" width="8.9" height="6.4" fill="#fbca2e"/>
<rect x="38.2" y="310.4" width="8.9" height="6.4" fill="#fbca2e"/>
<rect x="38.2" y="333.2" width="6.8" height="6.4" fill="#fbca2e"/>
<rect x="38.2" y="354.1" width="5.7" height="6.4" fill="#fbca2e"/>
<rect x="38.2" y="373.5" width="4.9" height="6.4" fill="#fbca2e"/>
<rect x="38.2" y="391.6" width="4.9" height="6.4" fill="#fbca2e"/>
<rect x="38.2" y="408.5" width="5.8" height="6.4" fill="#fbca2e"/>
<rect x="38.2" y="424.3" width="3.9" height="6.4" fill="#fbca2e"/>
<rect x="38.2" y="439.3" width="1.9" height="6.4" fill="#f0e21a"/>
<rect x="37.2" y="453.4" width="1.0" height="6.4" fill="#777777"/>
<rect x="34.2" y="466.8" width="4.0" height="6.4" fill="#777777"/>
<rect x="33.0" y="479.6" width="5.2" height="6.4" fill="#777777"/>
<rect x="32.2" y="491.7" width="6.0" height="6.4" fill="#777777"/>
<rect x="32.2" y="503.3" width="6.0" height="6.4" fill="#777777"/>
<rect x="32.2" y="514.5" width="6.0" height="6.4" fill="#777777"/>
<rect x="32.2" y="525.2" width="6.0" height="6.4" fill="#777777"/>
<rect x="32.2" y="535.5" width="6.0" height="6.4" fill="#777777"/>
<rect x="33.0" y="545.4" width="5.2" height="6.4" fill="#777777"/>
<rect x="33.0" y="554.9" width="5.2" height="6.4" fill="#777777"/>
<rect x="32.2" y="564.1" width="6.0" height="6.4" fill="#777777"/>
<rect x="32.6" y="573.0" width="5.6" height="6.4" fill="#777777"/>
<rect x="33.0" y="581.6" width="5.2" height="6.4" fill="#777777"/>
<rect x="35.0" y="590.0" width="3.2" height="6.4" fill="#777777"/>
<rect x="37.2" y="598.0" width="1.0" height="6.4" fill="#777777"/>
<rect x="37.2" y="605.9" width="1.0" height="6.4" fill="#777777"/>
<rect x="37.2" y="613.5" width="1.0" height="6.4" fill="#777777"/>
<rect x="36.0" y="620.9" width="2.2" height="6.4" fill="#777777"/>
<rect x="36.0" y="628.1" width="2.2" height="6.4" fill="#777777"/>
<rect x="38.2" y="641.9" width="2.8" height="6.4" fill="#f0e21a"/>
<g stroke="#000" stroke-width="1">
<line x1="38.5" y1="665.5" x2="38.5" y2="670.5"/>
<line x1="69.5" y1="665.5" x2="69.5" y2="670.5"/>
<line x1="100.5" y1="665.5" x2="100.5" y2="670.5"/>
</g>
<text x="38.60" y="681.70" font-size="11.72" fill="#000" textLength="7.07" lengthAdjust="spacingAndGlyphs" text-anchor="middle">0</text>
<text x="69.60" y="681.70" font-size="11.72" fill="#000" textLength="16.38" lengthAdjust="spacingAndGlyphs" text-anchor="middle">−1</text>
<text x="100.60" y="681.70" font-size="11.72" fill="#000" textLength="16.38" lengthAdjust="spacingAndGlyphs" text-anchor="middle">−2</text>
<text x="23.12" y="702.60" font-size="14.65" fill="#000" textLength="50.34" lengthAdjust="spacingAndGlyphs">Omega</text><text x="77.87" y="702.60" font-size="14.65" fill="#000" textLength="39.01" lengthAdjust="spacingAndGlyphs">(Pa/s)</text>
<line x1="23.2" y1="428.4" x2="98.7" y2="428.4" stroke="#ff0000" stroke-width="3.3" stroke-dasharray="8.4 2.8"/>
<line x1="23.2" y1="456.3" x2="98.7" y2="456.3" stroke="#ff0000" stroke-width="3.3" stroke-dasharray="8.4 2.8"/>
<text x="100.20" y="423.00" font-size="11.72" fill="#ff0000" textLength="26.40" lengthAdjust="spacingAndGlyphs" font-weight="bold" text-anchor="end">DGZ</text>
<text x="100.20" y="469.10" font-size="11.72" fill="#ff0000" textLength="26.40" lengthAdjust="spacingAndGlyphs" font-weight="bold" text-anchor="end">DGZ</text>
<rect x="42.5" y="63.5" width="128.2" height="96.9" rx="2.5" fill="#fff" fill-opacity="0.8" stroke="#cccccc" stroke-width="1"/>
<line x1="46.5" y1="72.5" x2="70.5" y2="72.5" stroke="#3d9a3d" stroke-width="1.05" stroke-dasharray="1.05 1.75"/>
<text x="78.00" y="76.30" font-size="11.72" fill="#000" textLength="21.75" lengthAdjust="spacingAndGlyphs">Sat.</text><text x="103.28" y="76.30" font-size="11.72" fill="#000" textLength="22.78" lengthAdjust="spacingAndGlyphs">Mix.</text><text x="129.59" y="76.30" font-size="11.72" fill="#000" textLength="28.52" lengthAdjust="spacingAndGlyphs">Ratio</text>
<line x1="46.5" y1="87.5" x2="70.5" y2="87.5" stroke="#dd9a9a" stroke-width="1.00"/>
<text x="78.00" y="91.88" font-size="11.72" fill="#000" textLength="19.70" lengthAdjust="spacingAndGlyphs">Dry</text><text x="101.23" y="91.88" font-size="11.72" fill="#000" textLength="48.36" lengthAdjust="spacingAndGlyphs">Adiabats</text>
<line x1="46.5" y1="103.5" x2="70.5" y2="103.5" stroke="#a0a0e6" stroke-width="1.00"/>
<text x="78.00" y="107.46" font-size="11.72" fill="#000" textLength="87.79" lengthAdjust="spacingAndGlyphs">Pseudoadiabats</text>
<line x1="46.5" y1="119.5" x2="70.5" y2="119.5" stroke="#0000ff" stroke-width="1.25"/>
<text x="78.00" y="123.04" font-size="11.72" fill="#000" textLength="45.76" lengthAdjust="spacingAndGlyphs">Wetbulb</text>
<line x1="46.5" y1="134.5" x2="70.5" y2="134.5" stroke="#009900" stroke-width="3.00"/>
<text x="78.00" y="138.62" font-size="11.72" fill="#000" textLength="52.82" lengthAdjust="spacingAndGlyphs">Dewpoint</text>
<line x1="46.5" y1="150.5" x2="70.5" y2="150.5" stroke="#ff0000" stroke-width="3.00"/>
<text x="78.00" y="154.20" font-size="11.72" fill="#000" textLength="70.38" lengthAdjust="spacingAndGlyphs">Temperature</text>
<text x="986.80" y="35.80" font-size="16.12" fill="#808080" textLength="195.06" lengthAdjust="spacingAndGlyphs" font-weight="bold" text-anchor="middle">TROPICALTIDBITS.COM</text>
<g clip-path="url(#hodo)">
<ellipse cx="914.2" cy="176.3" rx="19.1" ry="16.4" fill="none" stroke="#a6a6a6" stroke-width="0.85" stroke-dasharray="0.9 1.8"/>
<ellipse cx="914.2" cy="176.3" rx="38.1" ry="32.7" fill="none" stroke="#a6a6a6" stroke-width="0.85" stroke-dasharray="0.9 1.8"/>
<ellipse cx="914.2" cy="176.3" rx="57.1" ry="49.0" fill="none" stroke="#a6a6a6" stroke-width="0.85" stroke-dasharray="0.9 1.8"/>
<ellipse cx="914.2" cy="176.3" rx="76.2" ry="65.4" fill="none" stroke="#a6a6a6" stroke-width="0.85" stroke-dasharray="0.9 1.8"/>
<ellipse cx="914.2" cy="176.3" rx="95.2" ry="81.8" fill="none" stroke="#a6a6a6" stroke-width="0.85" stroke-dasharray="0.9 1.8"/>
<ellipse cx="914.2" cy="176.3" rx="114.3" ry="98.1" fill="none" stroke="#a6a6a6" stroke-width="0.85" stroke-dasharray="0.9 1.8"/>
<ellipse cx="914.2" cy="176.3" rx="133.3" ry="114.5" fill="none" stroke="#a6a6a6" stroke-width="0.85" stroke-dasharray="0.9 1.8"/>
<ellipse cx="914.2" cy="176.3" rx="152.4" ry="130.8" fill="none" stroke="#a6a6a6" stroke-width="0.85" stroke-dasharray="0.9 1.8"/>
<ellipse cx="914.2" cy="176.3" rx="171.4" ry="147.2" fill="none" stroke="#a6a6a6" stroke-width="0.85" stroke-dasharray="0.9 1.8"/>
<ellipse cx="914.2" cy="176.3" rx="190.5" ry="163.5" fill="none" stroke="#a6a6a6" stroke-width="0.85" stroke-dasharray="0.9 1.8"/>
<ellipse cx="914.2" cy="176.3" rx="209.6" ry="179.8" fill="none" stroke="#a6a6a6" stroke-width="0.85" stroke-dasharray="0.9 1.8"/>
<ellipse cx="914.2" cy="176.3" rx="228.6" ry="196.2" fill="none" stroke="#a6a6a6" stroke-width="0.85" stroke-dasharray="0.9 1.8"/>
<line x1="914.5" y1="49.5" x2="914.5" y2="237.5" stroke="#222" stroke-width="1"/>
<line x1="876.5" y1="176.5" x2="1096.8" y2="176.5" stroke="#222" stroke-width="1"/>
<polyline points="918.0,133.3 920.3,125.4 925.0,118.4 946.5,100.4 961.9,99.6 976.2,111.5 979.5,117.5 978.4,123.5 975.6,130.5" fill="none" stroke="#ff0000" stroke-width="2.3" stroke-linejoin="round"/>
<polyline points="983.2,109.1 987.1,100.4 997.0,95.4 1014.7,93.2 1027.9,94.9 1038.4,97.1" fill="none" stroke="#008000" stroke-width="2.3" stroke-linejoin="round"/>
<polyline points="1047.2,99.0 1053.8,99.8 1062.6,106.5 1064.8,119.7 1062.1,127.4 1057.7,135.1 1063.2,136.2 1074.2,138.4 1078.1,137.3" fill="none" stroke="#bf10c0" stroke-width="2.3" stroke-linejoin="round"/>
<polyline points="1086.9,136.2 1089.1,134.0 1088.0,121.3 1080.8,112.5 1055.5,139.5 1090.2,114.7" fill="none" stroke="#0000ff" stroke-width="2.3" stroke-linejoin="round"/>
</g>
<rect x="876.5" y="49.4" width="220.3" height="187.8" fill="none" stroke="#000" stroke-width="1.1"/>
<g font-size="11.2" fill="#808080" text-anchor="middle">
<text x="895.3" y="193">5</text>
<text x="933.2" y="193">5</text>
<text x="952.3" y="193">10</text>
<text x="971.4" y="193">15</text>
<text x="990.4" y="193">20</text>
<text x="1009.5" y="193">25</text>
<text x="1028.5" y="193">30</text>
<text x="1047.5" y="193">35</text>
<text x="1066.6" y="193">40</text>
</g>
<text x="980.80" y="118.20" font-size="12.45" fill="#000" textLength="7.51" lengthAdjust="spacingAndGlyphs" text-anchor="middle" stroke="#fff" stroke-width="2.2" paint-order="stroke" stroke-linejoin="round">3</text>
<text x="980.20" y="120.60" font-size="12.45" fill="#000" textLength="7.51" lengthAdjust="spacingAndGlyphs" text-anchor="middle" stroke="#fff" stroke-width="2.2" paint-order="stroke" stroke-linejoin="round">1</text>
<text x="977.20" y="134.80" font-size="12.45" fill="#000" textLength="7.51" lengthAdjust="spacingAndGlyphs" text-anchor="middle" stroke="#fff" stroke-width="2.2" paint-order="stroke" stroke-linejoin="round">2</text>
<text x="1042.80" y="101.90" font-size="12.45" fill="#000" textLength="7.51" lengthAdjust="spacingAndGlyphs" text-anchor="middle" stroke="#fff" stroke-width="2.2" paint-order="stroke" stroke-linejoin="round">6</text>
<text x="1082.50" y="140.50" font-size="12.45" fill="#000" textLength="7.51" lengthAdjust="spacingAndGlyphs" text-anchor="middle" stroke="#fff" stroke-width="2.2" paint-order="stroke" stroke-linejoin="round">9</text>
<ellipse cx="965.4" cy="66.3" rx="8.9" ry="7.7" fill="#fff" stroke="#000" stroke-width="1.3"/>
<text x="965.4" y="69.3" font-size="8.5" text-anchor="middle" textLength="11" lengthAdjust="spacingAndGlyphs">LM</text>
<ellipse cx="1000.5" cy="157.3" rx="8.9" ry="7.7" fill="#fff" stroke="#000" stroke-width="1.3"/>
<text x="1000.5" y="160.3" font-size="8.5" text-anchor="middle" textLength="11" lengthAdjust="spacingAndGlyphs">RM</text>
<text x="883.04" y="250.90" font-size="11.72" fill="#222" textLength="61.53" lengthAdjust="spacingAndGlyphs">Hodograph</text><text x="948.11" y="250.90" font-size="11.72" fill="#222" textLength="30.60" lengthAdjust="spacingAndGlyphs">(wind</text><text x="982.24" y="250.90" font-size="11.72" fill="#222" textLength="10.13" lengthAdjust="spacingAndGlyphs">in</text><text x="995.90" y="250.90" font-size="11.72" fill="#222" textLength="14.32" lengthAdjust="spacingAndGlyphs">kt,</text><text x="1013.76" y="250.90" font-size="11.72" fill="#222" textLength="35.42" lengthAdjust="spacingAndGlyphs">height</text><text x="1052.70" y="250.90" font-size="11.72" fill="#222" textLength="10.13" lengthAdjust="spacingAndGlyphs">in</text><text x="1066.36" y="250.90" font-size="11.72" fill="#222" textLength="21.59" lengthAdjust="spacingAndGlyphs">km)</text>
<text x="876.8" y="285.9" font-family="Liberation Mono, monospace" font-size="13.9" fill="#9e2ea6" xml:space="preserve">SRH 0-1km:</text>
<text x="1010.6" y="285.9" font-family="Liberation Mono, monospace" font-size="13.9" fill="#9e2ea6" xml:space="preserve">104</text>
<text x="1044.4" y="285.9" font-size="14.6" font-style="italic" fill="#9e2ea6">m</text>
<text x="1057.6" y="280.3" font-size="9.8" fill="#9e2ea6">2</text>
<text x="1064.2" y="285.9" font-size="14.6" font-style="italic" fill="#9e2ea6">s</text>
<text x="1071.8" y="280.3" font-size="9.8" fill="#9e2ea6" textLength="15" lengthAdjust="spacingAndGlyphs">−2</text>
<text x="876.8" y="302.5" font-family="Liberation Mono, monospace" font-size="13.9" fill="#000" xml:space="preserve">SRH 0-3km:</text>
<text x="1010.6" y="302.5" font-family="Liberation Mono, monospace" font-size="13.9" fill="#000" xml:space="preserve">106</text>
<text x="1044.4" y="302.5" font-size="14.6" font-style="italic" fill="#000">m</text>
<text x="1057.6" y="296.9" font-size="9.8" fill="#000">2</text>
<text x="1064.2" y="302.5" font-size="14.6" font-style="italic" fill="#000">s</text>
<text x="1071.8" y="296.9" font-size="9.8" fill="#000" textLength="15" lengthAdjust="spacingAndGlyphs">−2</text>
<text x="876.8" y="322.2" font-family="Liberation Mono, monospace" font-size="13.9" fill="#000" xml:space="preserve">SBCAPE:</text>
<text x="1027.3" y="322.2" font-family="Liberation Mono, monospace" font-size="13.9" fill="#000" xml:space="preserve">0</text>
<text x="1044.0" y="322.2" font-family="Liberation Mono, monospace" font-size="13.9" fill="#000" xml:space="preserve">J/kg</text>
<text x="876.8" y="339.5" font-family="Liberation Mono, monospace" font-size="13.9" fill="#000" xml:space="preserve">MLCAPE:</text>
<text x="1027.3" y="339.5" font-family="Liberation Mono, monospace" font-size="13.9" fill="#000" xml:space="preserve">0</text>
<text x="1044.0" y="339.5" font-family="Liberation Mono, monospace" font-size="13.9" fill="#000" xml:space="preserve">J/kg</text>
<text x="876.8" y="356.8" font-family="Liberation Mono, monospace" font-size="13.9" fill="#000" xml:space="preserve">MUCAPE:</text>
<text x="1027.3" y="356.8" font-family="Liberation Mono, monospace" font-size="13.9" fill="#000" xml:space="preserve">0</text>
<text x="1044.0" y="356.8" font-family="Liberation Mono, monospace" font-size="13.9" fill="#000" xml:space="preserve">J/kg</text>
<text x="876.8" y="374.3" font-family="Liberation Mono, monospace" font-size="13.9" fill="#000" xml:space="preserve">SBCIN:</text>
<text x="1027.3" y="374.3" font-family="Liberation Mono, monospace" font-size="13.9" fill="#000" xml:space="preserve">0</text>
<text x="1044.0" y="374.3" font-family="Liberation Mono, monospace" font-size="13.9" fill="#000" xml:space="preserve">J/kg</text>
<text x="876.8" y="391.9" font-family="Liberation Mono, monospace" font-size="13.9" fill="#000" xml:space="preserve">MLCIN:</text>
<text x="1027.3" y="391.9" font-family="Liberation Mono, monospace" font-size="13.9" fill="#000" xml:space="preserve">0</text>
<text x="1044.0" y="391.9" font-family="Liberation Mono, monospace" font-size="13.9" fill="#000" xml:space="preserve">J/kg</text>
<text x="876.8" y="409.4" font-family="Liberation Mono, monospace" font-size="13.9" fill="#3333cc" xml:space="preserve">DCAPE:</text>
<text x="1027.3" y="409.4" font-family="Liberation Mono, monospace" font-size="13.9" fill="#3333cc" xml:space="preserve">6</text>
<text x="1044.0" y="409.4" font-family="Liberation Mono, monospace" font-size="13.9" fill="#3333cc" xml:space="preserve">J/kg</text>
<text x="876.8" y="427.0" font-family="Liberation Mono, monospace" font-size="13.9" fill="#cc6633" xml:space="preserve">SHR 200-850mb:</text>
<text x="1018.9" y="427.0" font-family="Liberation Mono, monospace" font-size="13.9" fill="#cc6633" xml:space="preserve">29</text>
<text x="1044.0" y="427.0" font-family="Liberation Mono, monospace" font-size="13.9" fill="#cc6633" xml:space="preserve">kt</text>
<text x="876.8" y="444.2" font-family="Liberation Mono, monospace" font-size="13.9" fill="#000" xml:space="preserve">RH 300-850mb:</text>
<text x="1018.9" y="444.2" font-family="Liberation Mono, monospace" font-size="13.9" fill="#000" xml:space="preserve">60</text>
<text x="1044.0" y="444.2" font-family="Liberation Mono, monospace" font-size="13.9" fill="#000" xml:space="preserve">%</text>
<text x="876.8" y="461.5" font-family="Liberation Mono, monospace" font-size="13.9" fill="#000" xml:space="preserve">PWAT:</text>
<text x="1002.2" y="461.5" font-family="Liberation Mono, monospace" font-size="13.9" fill="#000" xml:space="preserve">1.18</text>
<text x="1044.0" y="461.5" font-family="Liberation Mono, monospace" font-size="13.9" fill="#000" xml:space="preserve">in</text>
<rect x="892.7" y="500.7" width="203.9" height="164.3" fill="none" stroke="#000" stroke-width="1.1"/>
<g stroke="#000" stroke-width="1">
<line x1="892.7" y1="522.5" x2="897.7" y2="522.5"/>
<line x1="892.7" y1="566.5" x2="897.7" y2="566.5"/>
<line x1="892.7" y1="610.5" x2="897.7" y2="610.5"/>
<line x1="892.7" y1="654.5" x2="897.7" y2="654.5"/>
<line x1="918.5" y1="665" x2="918.5" y2="660"/>
<line x1="965.5" y1="665" x2="965.5" y2="660"/>
<line x1="1012.5" y1="665" x2="1012.5" y2="660"/>
<line x1="1059.5" y1="665" x2="1059.5" y2="660"/>
</g>
<g font-size="10.6" fill="#000">
<text x="901.50" y="526.00" font-size="11.72" fill="#000" textLength="21.21" lengthAdjust="spacingAndGlyphs">400</text>
<text x="901.50" y="570.10" font-size="11.72" fill="#000" textLength="21.21" lengthAdjust="spacingAndGlyphs">600</text>
<text x="901.50" y="614.20" font-size="11.72" fill="#000" textLength="21.21" lengthAdjust="spacingAndGlyphs">800</text>
<text x="918.60" y="655.60" font-size="11.72" fill="#000" textLength="21.21" lengthAdjust="spacingAndGlyphs" text-anchor="middle">310</text>
<text x="965.40" y="655.60" font-size="11.72" fill="#000" textLength="21.21" lengthAdjust="spacingAndGlyphs" text-anchor="middle">320</text>
<text x="1012.20" y="655.60" font-size="11.72" fill="#000" textLength="21.21" lengthAdjust="spacingAndGlyphs" text-anchor="middle">330</text>
<text x="1059.00" y="655.60" font-size="11.72" fill="#000" textLength="21.21" lengthAdjust="spacingAndGlyphs" text-anchor="middle">340</text>
</g>
<text transform="translate(884.60,582.80) rotate(-90)" font-size="11.72" fill="#000" textLength="79.68" lengthAdjust="spacingAndGlyphs" text-anchor="middle">Pressure (hPa)</text>
<text x="905.09" y="678.20" font-size="11.72" fill="#000" textLength="58.91" lengthAdjust="spacingAndGlyphs">Equivalent</text><text x="967.53" y="678.20" font-size="11.72" fill="#000" textLength="20.98" lengthAdjust="spacingAndGlyphs">Pot.</text><text x="992.05" y="678.20" font-size="11.72" fill="#000" textLength="70.38" lengthAdjust="spacingAndGlyphs">Temperature</text><text x="1065.95" y="678.20" font-size="11.72" fill="#000" textLength="15.96" lengthAdjust="spacingAndGlyphs">(K)</text>
<polyline points="1039.7,500.7 1037.0,506.0 1021.0,515.4 1011.6,523.4 1007.6,530.1 1005.0,539.4 1001.0,548.8 1003.6,555.5 1010.3,564.8 1013.8,571.5 1013.8,576.9 998.3,582.2 975.6,587.5 959.5,592.9 956.0,598.2 964.9,604.9 980.9,610.3 991.6,615.6 995.6,621.0 995.6,626.3 986.2,630.3 971.5,637.0 952.8,642.3 940.8,647.7 948.8,649.8" fill="none" stroke="#3399b3" stroke-width="2.6" stroke-linejoin="round"/>
</svg></body></html>
